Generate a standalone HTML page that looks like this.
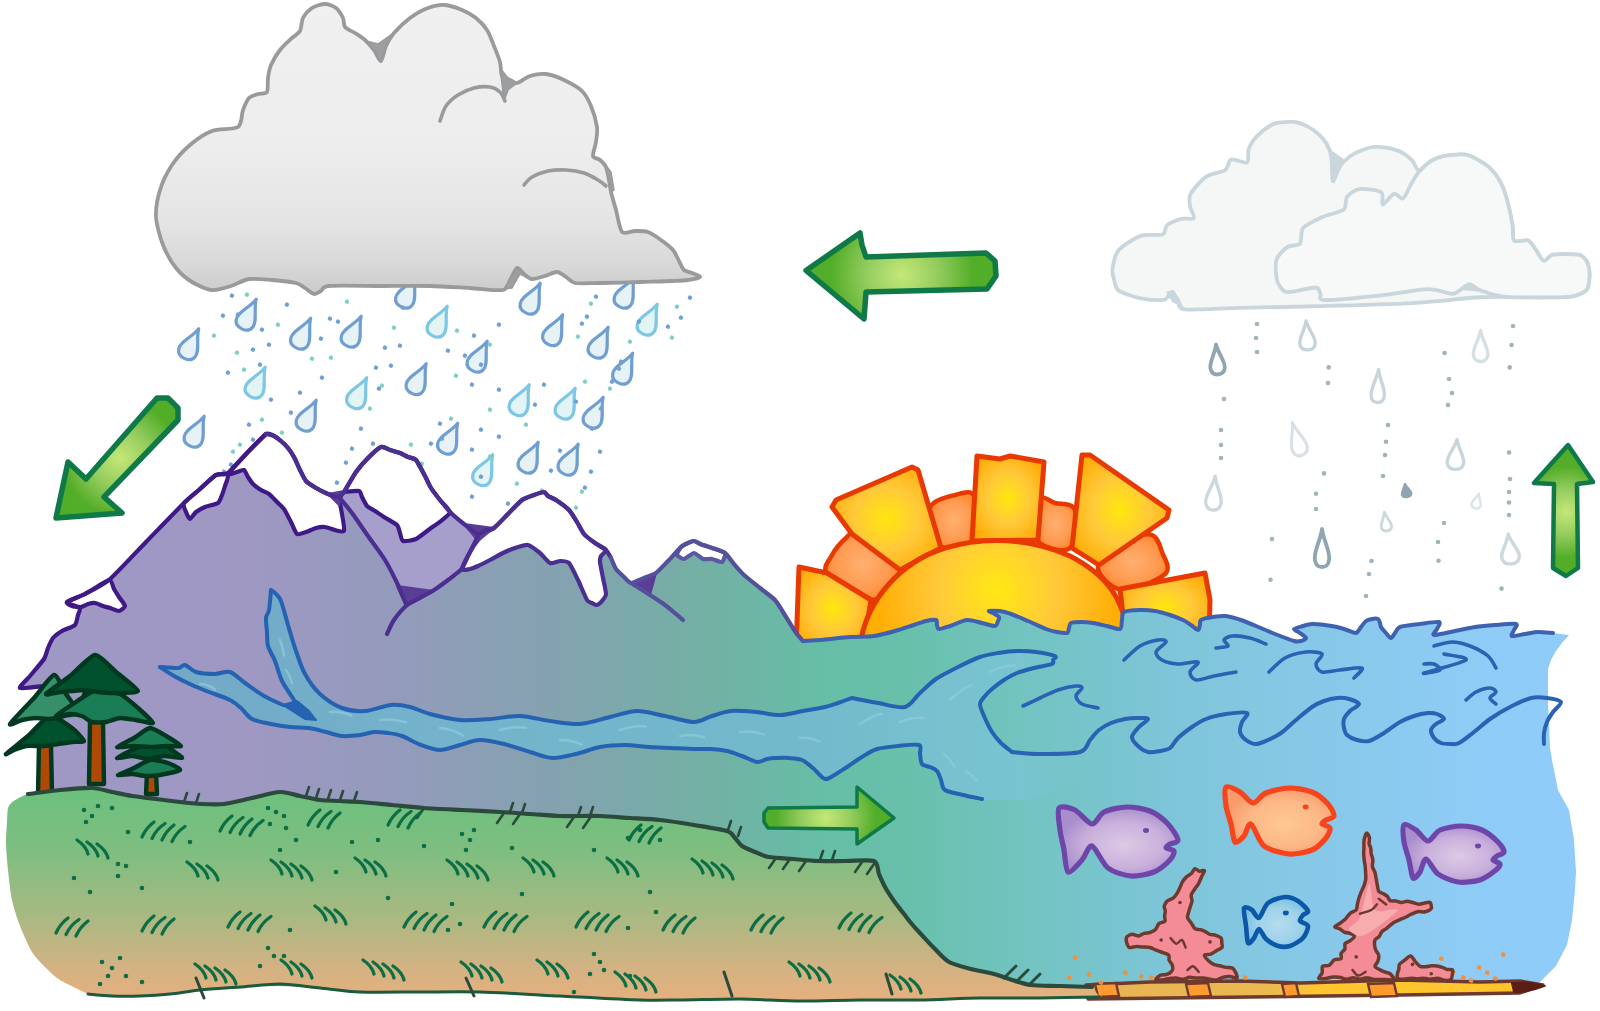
<!DOCTYPE html>
<html lang="en">
<head>
<meta charset="utf-8">
<title>Water cycle</title>
<style>
html,body{margin:0;padding:0;background:#fff;}
body{width:1600px;height:1011px;overflow:hidden;font-family:"Liberation Sans",sans-serif;}
svg{display:block;}
</style>
</head>
<body>
<svg width="1600" height="1011" viewBox="0 0 1600 1011">
<defs>
<linearGradient id="land" gradientUnits="userSpaceOnUse" x1="0" y1="0" x2="1600" y2="0">
<stop offset="0" stop-color="#a097c5"/>
<stop offset="0.16" stop-color="#9e98c3"/>
<stop offset="0.25" stop-color="#939bbb"/>
<stop offset="0.345" stop-color="#84a2b0"/>
<stop offset="0.44" stop-color="#73b0a4"/>
<stop offset="0.515" stop-color="#66bea6"/>
<stop offset="0.565" stop-color="#68c0ab"/>
<stop offset="0.63" stop-color="#71c3be"/>
<stop offset="0.72" stop-color="#7cc5d6"/>
<stop offset="0.81" stop-color="#86c8e6"/>
<stop offset="0.91" stop-color="#8ecbf5"/>
<stop offset="1" stop-color="#90ccfa"/>
</linearGradient>
<linearGradient id="grass" gradientUnits="userSpaceOnUse" x1="0" y1="790" x2="0" y2="1000">
<stop offset="0" stop-color="#6cc07e"/>
<stop offset="0.3" stop-color="#7fbe80"/>
<stop offset="0.6" stop-color="#a8b982"/>
<stop offset="0.85" stop-color="#d4b282"/>
<stop offset="1" stop-color="#e6b07e"/>
</linearGradient>
<linearGradient id="cloud1" gradientUnits="userSpaceOnUse" x1="0" y1="0" x2="0" y2="295">
<stop offset="0" stop-color="#f0f0f0"/>
<stop offset="0.5" stop-color="#ededed"/>
<stop offset="0.75" stop-color="#e4e4e4"/>
<stop offset="0.9" stop-color="#d8d8d8"/>
<stop offset="1" stop-color="#cacaca"/>
</linearGradient>
<radialGradient id="sunD" gradientUnits="userSpaceOnUse" cx="997" cy="590" r="120">
<stop offset="0" stop-color="#ffe814"/>
<stop offset="0.5" stop-color="#ffc93a"/>
<stop offset="1" stop-color="#ffae06"/>
</radialGradient>
<radialGradient id="ray" cx="0.5" cy="0.5" r="0.6">
<stop offset="0" stop-color="#ffe60e"/>
<stop offset="0.5" stop-color="#ffc93a"/>
<stop offset="1" stop-color="#ffaa04"/>
</radialGradient>
<radialGradient id="blob" cx="0.5" cy="0.5" r="0.6">
<stop offset="0" stop-color="#ffb070"/>
<stop offset="0.6" stop-color="#ff9a50"/>
<stop offset="1" stop-color="#ff8020"/>
</radialGradient>
<radialGradient id="arr" cx="0.5" cy="0.5" r="0.5">
<stop offset="0" stop-color="#c2e676"/>
<stop offset="0.55" stop-color="#8fca5c"/>
<stop offset="1" stop-color="#52ad28"/>
</radialGradient>
<radialGradient id="fishP" cx="0.55" cy="0.55" r="0.55">
<stop offset="0" stop-color="#dccae6"/>
<stop offset="0.6" stop-color="#c9b0dc"/>
<stop offset="1" stop-color="#a98dcc"/>
</radialGradient>
<radialGradient id="fishO" cx="0.55" cy="0.55" r="0.55">
<stop offset="0" stop-color="#fdc892"/>
<stop offset="0.6" stop-color="#fdb888"/>
<stop offset="1" stop-color="#f99a6a"/>
</radialGradient>
<radialGradient id="fishB" cx="0.55" cy="0.55" r="0.55">
<stop offset="0" stop-color="#b4dcee"/>
<stop offset="0.6" stop-color="#9fd2ea"/>
<stop offset="1" stop-color="#7cbfe2"/>
</radialGradient>
<linearGradient id="riv" gradientUnits="userSpaceOnUse" x1="160" y1="0" x2="1100" y2="0">
<stop offset="0" stop-color="#72a8c6"/>
<stop offset="0.30" stop-color="#74b3cb"/>
<stop offset="0.68" stop-color="#72b9cb"/>
<stop offset="0.85" stop-color="#78c2d0"/>
<stop offset="0.91" stop-color="#79c4d0"/>
<stop offset="1" stop-color="#79c5d0" stop-opacity="0"/>
</linearGradient>
<linearGradient id="floor" gradientUnits="userSpaceOnUse" x1="1090" y1="0" x2="1540" y2="0">
<stop offset="0" stop-color="#e8b454"/><stop offset="0.4" stop-color="#ecb850"/><stop offset="0.5" stop-color="#ffc630"/><stop offset="1" stop-color="#ffc42c"/>
</linearGradient>
</defs>
<path d="M0 -16.5 C-1.8 -6.6 -11.5 4 -9 10.6 C-7.6 16.5 -2.5 16.5 0 16.5 C2.5 16.5 7.6 16.5 9 10.6 C11.5 4 1.8 -6.6 0 -16.5 Z" transform="translate(249 314) rotate(26)" fill="#e6f2f6" stroke="#6f9fd2" stroke-width="3.2" stroke-linejoin="round"/>
<path d="M0 -16.5 C-1.8 -6.6 -11.5 4 -9 10.6 C-7.6 16.5 -2.5 16.5 0 16.5 C2.5 16.5 7.6 16.5 9 10.6 C11.5 4 1.8 -6.6 0 -16.5 Z" transform="translate(191.5 343.5) rotate(26)" fill="#e6f2f6" stroke="#6f9fd2" stroke-width="3.2" stroke-linejoin="round"/>
<path d="M0 -16.5 C-1.8 -6.6 -11.5 4 -9 10.6 C-7.6 16.5 -2.5 16.5 0 16.5 C2.5 16.5 7.6 16.5 9 10.6 C11.5 4 1.8 -6.6 0 -16.5 Z" transform="translate(303.5 333) rotate(26)" fill="#e6f2f6" stroke="#6f9fd2" stroke-width="3.2" stroke-linejoin="round"/>
<path d="M0 -16.5 C-1.8 -6.6 -11.5 4 -9 10.6 C-7.6 16.5 -2.5 16.5 0 16.5 C2.5 16.5 7.6 16.5 9 10.6 C11.5 4 1.8 -6.6 0 -16.5 Z" transform="translate(354 331) rotate(26)" fill="#e6f2f6" stroke="#6f9fd2" stroke-width="3.2" stroke-linejoin="round"/>
<path d="M0 -16.5 C-1.8 -6.6 -11.5 4 -9 10.6 C-7.6 16.5 -2.5 16.5 0 16.5 C2.5 16.5 7.6 16.5 9 10.6 C11.5 4 1.8 -6.6 0 -16.5 Z" transform="translate(408.5 292) rotate(26)" fill="#e6f2f6" stroke="#6f9fd2" stroke-width="3.2" stroke-linejoin="round"/>
<path d="M0 -16.5 C-1.8 -6.6 -11.5 4 -9 10.6 C-7.6 16.5 -2.5 16.5 0 16.5 C2.5 16.5 7.6 16.5 9 10.6 C11.5 4 1.8 -6.6 0 -16.5 Z" transform="translate(440 321) rotate(26)" fill="#e2f4f4" stroke="#7cc6e6" stroke-width="3.2" stroke-linejoin="round"/>
<path d="M0 -16.5 C-1.8 -6.6 -11.5 4 -9 10.6 C-7.6 16.5 -2.5 16.5 0 16.5 C2.5 16.5 7.6 16.5 9 10.6 C11.5 4 1.8 -6.6 0 -16.5 Z" transform="translate(533 298) rotate(26)" fill="#e6f2f6" stroke="#6f9fd2" stroke-width="3.2" stroke-linejoin="round"/>
<path d="M0 -16.5 C-1.8 -6.6 -11.5 4 -9 10.6 C-7.6 16.5 -2.5 16.5 0 16.5 C2.5 16.5 7.6 16.5 9 10.6 C11.5 4 1.8 -6.6 0 -16.5 Z" transform="translate(555.5 329.5) rotate(26)" fill="#e6f2f6" stroke="#6f9fd2" stroke-width="3.2" stroke-linejoin="round"/>
<path d="M0 -16.5 C-1.8 -6.6 -11.5 4 -9 10.6 C-7.6 16.5 -2.5 16.5 0 16.5 C2.5 16.5 7.6 16.5 9 10.6 C11.5 4 1.8 -6.6 0 -16.5 Z" transform="translate(627 292) rotate(26)" fill="#e6f2f6" stroke="#6f9fd2" stroke-width="3.2" stroke-linejoin="round"/>
<path d="M0 -16.5 C-1.8 -6.6 -11.5 4 -9 10.6 C-7.6 16.5 -2.5 16.5 0 16.5 C2.5 16.5 7.6 16.5 9 10.6 C11.5 4 1.8 -6.6 0 -16.5 Z" transform="translate(650 319) rotate(26)" fill="#e2f4f4" stroke="#7cc6e6" stroke-width="3.2" stroke-linejoin="round"/>
<path d="M0 -16.5 C-1.8 -6.6 -11.5 4 -9 10.6 C-7.6 16.5 -2.5 16.5 0 16.5 C2.5 16.5 7.6 16.5 9 10.6 C11.5 4 1.8 -6.6 0 -16.5 Z" transform="translate(601 342) rotate(26)" fill="#e6f2f6" stroke="#6f9fd2" stroke-width="3.2" stroke-linejoin="round"/>
<path d="M0 -16.5 C-1.8 -6.6 -11.5 4 -9 10.6 C-7.6 16.5 -2.5 16.5 0 16.5 C2.5 16.5 7.6 16.5 9 10.6 C11.5 4 1.8 -6.6 0 -16.5 Z" transform="translate(480 356) rotate(26)" fill="#e6f2f6" stroke="#6f9fd2" stroke-width="3.2" stroke-linejoin="round"/>
<path d="M0 -16.5 C-1.8 -6.6 -11.5 4 -9 10.6 C-7.6 16.5 -2.5 16.5 0 16.5 C2.5 16.5 7.6 16.5 9 10.6 C11.5 4 1.8 -6.6 0 -16.5 Z" transform="translate(625.5 368) rotate(26)" fill="#e6f2f6" stroke="#6f9fd2" stroke-width="3.2" stroke-linejoin="round"/>
<path d="M0 -16.5 C-1.8 -6.6 -11.5 4 -9 10.6 C-7.6 16.5 -2.5 16.5 0 16.5 C2.5 16.5 7.6 16.5 9 10.6 C11.5 4 1.8 -6.6 0 -16.5 Z" transform="translate(258 382) rotate(26)" fill="#e2f4f4" stroke="#7cc6e6" stroke-width="3.2" stroke-linejoin="round"/>
<path d="M0 -16.5 C-1.8 -6.6 -11.5 4 -9 10.6 C-7.6 16.5 -2.5 16.5 0 16.5 C2.5 16.5 7.6 16.5 9 10.6 C11.5 4 1.8 -6.6 0 -16.5 Z" transform="translate(359.5 392.5) rotate(26)" fill="#e2f4f4" stroke="#7cc6e6" stroke-width="3.2" stroke-linejoin="round"/>
<path d="M0 -16.5 C-1.8 -6.6 -11.5 4 -9 10.6 C-7.6 16.5 -2.5 16.5 0 16.5 C2.5 16.5 7.6 16.5 9 10.6 C11.5 4 1.8 -6.6 0 -16.5 Z" transform="translate(419 378.5) rotate(26)" fill="#e6f2f6" stroke="#6f9fd2" stroke-width="3.2" stroke-linejoin="round"/>
<path d="M0 -16.5 C-1.8 -6.6 -11.5 4 -9 10.6 C-7.6 16.5 -2.5 16.5 0 16.5 C2.5 16.5 7.6 16.5 9 10.6 C11.5 4 1.8 -6.6 0 -16.5 Z" transform="translate(522 399.5) rotate(26)" fill="#e2f4f4" stroke="#7cc6e6" stroke-width="3.2" stroke-linejoin="round"/>
<path d="M0 -16.5 C-1.8 -6.6 -11.5 4 -9 10.6 C-7.6 16.5 -2.5 16.5 0 16.5 C2.5 16.5 7.6 16.5 9 10.6 C11.5 4 1.8 -6.6 0 -16.5 Z" transform="translate(568 403) rotate(26)" fill="#e2f4f4" stroke="#7cc6e6" stroke-width="3.2" stroke-linejoin="round"/>
<path d="M0 -16.5 C-1.8 -6.6 -11.5 4 -9 10.6 C-7.6 16.5 -2.5 16.5 0 16.5 C2.5 16.5 7.6 16.5 9 10.6 C11.5 4 1.8 -6.6 0 -16.5 Z" transform="translate(596 412) rotate(26)" fill="#e6f2f6" stroke="#6f9fd2" stroke-width="3.2" stroke-linejoin="round"/>
<path d="M0 -16.5 C-1.8 -6.6 -11.5 4 -9 10.6 C-7.6 16.5 -2.5 16.5 0 16.5 C2.5 16.5 7.6 16.5 9 10.6 C11.5 4 1.8 -6.6 0 -16.5 Z" transform="translate(197 431) rotate(26)" fill="#e6f2f6" stroke="#6f9fd2" stroke-width="3.2" stroke-linejoin="round"/>
<path d="M0 -16.5 C-1.8 -6.6 -11.5 4 -9 10.6 C-7.6 16.5 -2.5 16.5 0 16.5 C2.5 16.5 7.6 16.5 9 10.6 C11.5 4 1.8 -6.6 0 -16.5 Z" transform="translate(309 415) rotate(26)" fill="#e6f2f6" stroke="#6f9fd2" stroke-width="3.2" stroke-linejoin="round"/>
<path d="M0 -16.5 C-1.8 -6.6 -11.5 4 -9 10.6 C-7.6 16.5 -2.5 16.5 0 16.5 C2.5 16.5 7.6 16.5 9 10.6 C11.5 4 1.8 -6.6 0 -16.5 Z" transform="translate(450.5 438) rotate(26)" fill="#e6f2f6" stroke="#6f9fd2" stroke-width="3.2" stroke-linejoin="round"/>
<path d="M0 -16.5 C-1.8 -6.6 -11.5 4 -9 10.6 C-7.6 16.5 -2.5 16.5 0 16.5 C2.5 16.5 7.6 16.5 9 10.6 C11.5 4 1.8 -6.6 0 -16.5 Z" transform="translate(485.5 469.5) rotate(26)" fill="#e2f4f4" stroke="#7cc6e6" stroke-width="3.2" stroke-linejoin="round"/>
<path d="M0 -16.5 C-1.8 -6.6 -11.5 4 -9 10.6 C-7.6 16.5 -2.5 16.5 0 16.5 C2.5 16.5 7.6 16.5 9 10.6 C11.5 4 1.8 -6.6 0 -16.5 Z" transform="translate(531 457) rotate(26)" fill="#e6f2f6" stroke="#6f9fd2" stroke-width="3.2" stroke-linejoin="round"/>
<path d="M0 -16.5 C-1.8 -6.6 -11.5 4 -9 10.6 C-7.6 16.5 -2.5 16.5 0 16.5 C2.5 16.5 7.6 16.5 9 10.6 C11.5 4 1.8 -6.6 0 -16.5 Z" transform="translate(571 459) rotate(26)" fill="#e6f2f6" stroke="#6f9fd2" stroke-width="3.2" stroke-linejoin="round"/>
<rect x="246" y="292" width="4" height="4" rx="1.2" fill="#7fd0c0" transform="rotate(25 246 292)"/>
<rect x="237" y="312" width="4" height="4" rx="1.2" fill="#6fa0d4" transform="rotate(25 237 312)"/>
<rect x="231" y="293" width="4" height="4" rx="1.2" fill="#6fa0d4" transform="rotate(25 231 293)"/>
<rect x="222" y="313" width="4" height="4" rx="1.2" fill="#6fa0d4" transform="rotate(25 222 313)"/>
<rect x="213" y="333" width="4" height="4" rx="1.2" fill="#7fd0c0" transform="rotate(25 213 333)"/>
<rect x="286" y="302" width="4" height="4" rx="1.2" fill="#6fa0d4" transform="rotate(25 286 302)"/>
<rect x="277" y="322" width="4" height="4" rx="1.2" fill="#7fd0c0" transform="rotate(25 277 322)"/>
<rect x="268" y="342" width="4" height="4" rx="1.2" fill="#6fa0d4" transform="rotate(25 268 342)"/>
<rect x="259" y="362" width="4" height="4" rx="1.2" fill="#6fa0d4" transform="rotate(25 259 362)"/>
<rect x="346" y="299" width="4" height="4" rx="1.2" fill="#7fd0c0" transform="rotate(25 346 299)"/>
<rect x="337" y="319" width="4" height="4" rx="1.2" fill="#6fa0d4" transform="rotate(25 337 319)"/>
<rect x="329" y="316" width="4" height="4" rx="1.2" fill="#6fa0d4" transform="rotate(25 329 316)"/>
<rect x="320" y="336" width="4" height="4" rx="1.2" fill="#6fa0d4" transform="rotate(25 320 336)"/>
<rect x="311" y="356" width="4" height="4" rx="1.2" fill="#7fd0c0" transform="rotate(25 311 356)"/>
<rect x="402" y="305" width="4" height="4" rx="1.2" fill="#6fa0d4" transform="rotate(25 402 305)"/>
<rect x="393" y="325" width="4" height="4" rx="1.2" fill="#7fd0c0" transform="rotate(25 393 325)"/>
<rect x="384" y="345" width="4" height="4" rx="1.2" fill="#6fa0d4" transform="rotate(25 384 345)"/>
<rect x="375" y="365" width="4" height="4" rx="1.2" fill="#6fa0d4" transform="rotate(25 375 365)"/>
<rect x="456" y="328" width="4" height="4" rx="1.2" fill="#7fd0c0" transform="rotate(25 456 328)"/>
<rect x="447" y="348" width="4" height="4" rx="1.2" fill="#6fa0d4" transform="rotate(25 447 348)"/>
<rect x="473" y="333" width="4" height="4" rx="1.2" fill="#6fa0d4" transform="rotate(25 473 333)"/>
<rect x="464" y="353" width="4" height="4" rx="1.2" fill="#6fa0d4" transform="rotate(25 464 353)"/>
<rect x="455" y="373" width="4" height="4" rx="1.2" fill="#7fd0c0" transform="rotate(25 455 373)"/>
<rect x="498" y="322" width="4" height="4" rx="1.2" fill="#6fa0d4" transform="rotate(25 498 322)"/>
<rect x="489" y="342" width="4" height="4" rx="1.2" fill="#7fd0c0" transform="rotate(25 489 342)"/>
<rect x="480" y="362" width="4" height="4" rx="1.2" fill="#6fa0d4" transform="rotate(25 480 362)"/>
<rect x="471" y="382" width="4" height="4" rx="1.2" fill="#6fa0d4" transform="rotate(25 471 382)"/>
<rect x="590" y="301" width="4" height="4" rx="1.2" fill="#7fd0c0" transform="rotate(25 590 301)"/>
<rect x="581" y="321" width="4" height="4" rx="1.2" fill="#6fa0d4" transform="rotate(25 581 321)"/>
<rect x="595" y="294" width="4" height="4" rx="1.2" fill="#6fa0d4" transform="rotate(25 595 294)"/>
<rect x="586" y="314" width="4" height="4" rx="1.2" fill="#6fa0d4" transform="rotate(25 586 314)"/>
<rect x="577" y="334" width="4" height="4" rx="1.2" fill="#7fd0c0" transform="rotate(25 577 334)"/>
<rect x="638" y="319" width="4" height="4" rx="1.2" fill="#6fa0d4" transform="rotate(25 638 319)"/>
<rect x="629" y="339" width="4" height="4" rx="1.2" fill="#7fd0c0" transform="rotate(25 629 339)"/>
<rect x="620" y="359" width="4" height="4" rx="1.2" fill="#6fa0d4" transform="rotate(25 620 359)"/>
<rect x="611" y="379" width="4" height="4" rx="1.2" fill="#6fa0d4" transform="rotate(25 611 379)"/>
<rect x="676" y="304" width="4" height="4" rx="1.2" fill="#7fd0c0" transform="rotate(25 676 304)"/>
<rect x="667" y="324" width="4" height="4" rx="1.2" fill="#6fa0d4" transform="rotate(25 667 324)"/>
<rect x="689" y="295" width="4" height="4" rx="1.2" fill="#6fa0d4" transform="rotate(25 689 295)"/>
<rect x="680" y="315" width="4" height="4" rx="1.2" fill="#6fa0d4" transform="rotate(25 680 315)"/>
<rect x="671" y="335" width="4" height="4" rx="1.2" fill="#7fd0c0" transform="rotate(25 671 335)"/>
<rect x="618" y="366" width="4" height="4" rx="1.2" fill="#6fa0d4" transform="rotate(25 618 366)"/>
<rect x="609" y="386" width="4" height="4" rx="1.2" fill="#7fd0c0" transform="rotate(25 609 386)"/>
<rect x="600" y="406" width="4" height="4" rx="1.2" fill="#6fa0d4" transform="rotate(25 600 406)"/>
<rect x="591" y="426" width="4" height="4" rx="1.2" fill="#6fa0d4" transform="rotate(25 591 426)"/>
<rect x="584" y="379" width="4" height="4" rx="1.2" fill="#7fd0c0" transform="rotate(25 584 379)"/>
<rect x="575" y="399" width="4" height="4" rx="1.2" fill="#6fa0d4" transform="rotate(25 575 399)"/>
<rect x="543" y="382" width="4" height="4" rx="1.2" fill="#6fa0d4" transform="rotate(25 543 382)"/>
<rect x="534" y="402" width="4" height="4" rx="1.2" fill="#6fa0d4" transform="rotate(25 534 402)"/>
<rect x="525" y="422" width="4" height="4" rx="1.2" fill="#7fd0c0" transform="rotate(25 525 422)"/>
<rect x="498" y="387" width="4" height="4" rx="1.2" fill="#6fa0d4" transform="rotate(25 498 387)"/>
<rect x="489" y="407" width="4" height="4" rx="1.2" fill="#7fd0c0" transform="rotate(25 489 407)"/>
<rect x="480" y="427" width="4" height="4" rx="1.2" fill="#6fa0d4" transform="rotate(25 480 427)"/>
<rect x="471" y="447" width="4" height="4" rx="1.2" fill="#6fa0d4" transform="rotate(25 471 447)"/>
<rect x="450" y="416" width="4" height="4" rx="1.2" fill="#7fd0c0" transform="rotate(25 450 416)"/>
<rect x="441" y="436" width="4" height="4" rx="1.2" fill="#6fa0d4" transform="rotate(25 441 436)"/>
<rect x="399" y="343" width="4" height="4" rx="1.2" fill="#6fa0d4" transform="rotate(25 399 343)"/>
<rect x="390" y="363" width="4" height="4" rx="1.2" fill="#6fa0d4" transform="rotate(25 390 363)"/>
<rect x="381" y="383" width="4" height="4" rx="1.2" fill="#7fd0c0" transform="rotate(25 381 383)"/>
<rect x="378" y="386" width="4" height="4" rx="1.2" fill="#6fa0d4" transform="rotate(25 378 386)"/>
<rect x="369" y="406" width="4" height="4" rx="1.2" fill="#7fd0c0" transform="rotate(25 369 406)"/>
<rect x="360" y="426" width="4" height="4" rx="1.2" fill="#6fa0d4" transform="rotate(25 360 426)"/>
<rect x="351" y="446" width="4" height="4" rx="1.2" fill="#6fa0d4" transform="rotate(25 351 446)"/>
<rect x="330" y="355" width="4" height="4" rx="1.2" fill="#7fd0c0" transform="rotate(25 330 355)"/>
<rect x="321" y="375" width="4" height="4" rx="1.2" fill="#6fa0d4" transform="rotate(25 321 375)"/>
<rect x="299" y="390" width="4" height="4" rx="1.2" fill="#6fa0d4" transform="rotate(25 299 390)"/>
<rect x="290" y="410" width="4" height="4" rx="1.2" fill="#6fa0d4" transform="rotate(25 290 410)"/>
<rect x="281" y="430" width="4" height="4" rx="1.2" fill="#7fd0c0" transform="rotate(25 281 430)"/>
<rect x="270" y="397" width="4" height="4" rx="1.2" fill="#6fa0d4" transform="rotate(25 270 397)"/>
<rect x="261" y="417" width="4" height="4" rx="1.2" fill="#7fd0c0" transform="rotate(25 261 417)"/>
<rect x="252" y="437" width="4" height="4" rx="1.2" fill="#6fa0d4" transform="rotate(25 252 437)"/>
<rect x="243" y="457" width="4" height="4" rx="1.2" fill="#6fa0d4" transform="rotate(25 243 457)"/>
<rect x="236" y="350" width="4" height="4" rx="1.2" fill="#7fd0c0" transform="rotate(25 236 350)"/>
<rect x="227" y="370" width="4" height="4" rx="1.2" fill="#6fa0d4" transform="rotate(25 227 370)"/>
<rect x="261" y="327" width="4" height="4" rx="1.2" fill="#6fa0d4" transform="rotate(25 261 327)"/>
<rect x="252" y="347" width="4" height="4" rx="1.2" fill="#6fa0d4" transform="rotate(25 252 347)"/>
<rect x="243" y="367" width="4" height="4" rx="1.2" fill="#7fd0c0" transform="rotate(25 243 367)"/>
<rect x="248" y="422" width="4" height="4" rx="1.2" fill="#6fa0d4" transform="rotate(25 248 422)"/>
<rect x="239" y="442" width="4" height="4" rx="1.2" fill="#7fd0c0" transform="rotate(25 239 442)"/>
<rect x="230" y="462" width="4" height="4" rx="1.2" fill="#6fa0d4" transform="rotate(25 230 462)"/>
<rect x="221" y="482" width="4" height="4" rx="1.2" fill="#6fa0d4" transform="rotate(25 221 482)"/>
<rect x="232" y="449" width="4" height="4" rx="1.2" fill="#7fd0c0" transform="rotate(25 232 449)"/>
<rect x="223" y="469" width="4" height="4" rx="1.2" fill="#6fa0d4" transform="rotate(25 223 469)"/>
<rect x="345" y="460" width="4" height="4" rx="1.2" fill="#6fa0d4" transform="rotate(25 345 460)"/>
<rect x="336" y="480" width="4" height="4" rx="1.2" fill="#6fa0d4" transform="rotate(25 336 480)"/>
<rect x="327" y="500" width="4" height="4" rx="1.2" fill="#7fd0c0" transform="rotate(25 327 500)"/>
<rect x="372" y="441" width="4" height="4" rx="1.2" fill="#6fa0d4" transform="rotate(25 372 441)"/>
<rect x="363" y="461" width="4" height="4" rx="1.2" fill="#7fd0c0" transform="rotate(25 363 461)"/>
<rect x="354" y="481" width="4" height="4" rx="1.2" fill="#6fa0d4" transform="rotate(25 354 481)"/>
<rect x="345" y="501" width="4" height="4" rx="1.2" fill="#6fa0d4" transform="rotate(25 345 501)"/>
<rect x="410" y="442" width="4" height="4" rx="1.2" fill="#7fd0c0" transform="rotate(25 410 442)"/>
<rect x="401" y="462" width="4" height="4" rx="1.2" fill="#6fa0d4" transform="rotate(25 401 462)"/>
<rect x="439" y="421" width="4" height="4" rx="1.2" fill="#6fa0d4" transform="rotate(25 439 421)"/>
<rect x="430" y="441" width="4" height="4" rx="1.2" fill="#6fa0d4" transform="rotate(25 430 441)"/>
<rect x="421" y="461" width="4" height="4" rx="1.2" fill="#7fd0c0" transform="rotate(25 421 461)"/>
<rect x="498" y="434" width="4" height="4" rx="1.2" fill="#6fa0d4" transform="rotate(25 498 434)"/>
<rect x="489" y="454" width="4" height="4" rx="1.2" fill="#7fd0c0" transform="rotate(25 489 454)"/>
<rect x="480" y="474" width="4" height="4" rx="1.2" fill="#6fa0d4" transform="rotate(25 480 474)"/>
<rect x="471" y="494" width="4" height="4" rx="1.2" fill="#6fa0d4" transform="rotate(25 471 494)"/>
<rect x="516" y="481" width="4" height="4" rx="1.2" fill="#7fd0c0" transform="rotate(25 516 481)"/>
<rect x="507" y="501" width="4" height="4" rx="1.2" fill="#6fa0d4" transform="rotate(25 507 501)"/>
<rect x="559" y="448" width="4" height="4" rx="1.2" fill="#6fa0d4" transform="rotate(25 559 448)"/>
<rect x="550" y="468" width="4" height="4" rx="1.2" fill="#6fa0d4" transform="rotate(25 550 468)"/>
<rect x="541" y="488" width="4" height="4" rx="1.2" fill="#7fd0c0" transform="rotate(25 541 488)"/>
<rect x="584" y="485" width="4" height="4" rx="1.2" fill="#6fa0d4" transform="rotate(25 584 485)"/>
<rect x="575" y="505" width="4" height="4" rx="1.2" fill="#7fd0c0" transform="rotate(25 575 505)"/>
<rect x="566" y="525" width="4" height="4" rx="1.2" fill="#6fa0d4" transform="rotate(25 566 525)"/>
<rect x="557" y="545" width="4" height="4" rx="1.2" fill="#6fa0d4" transform="rotate(25 557 545)"/>
<rect x="560" y="504" width="4" height="4" rx="1.2" fill="#7fd0c0" transform="rotate(25 560 504)"/>
<rect x="551" y="524" width="4" height="4" rx="1.2" fill="#6fa0d4" transform="rotate(25 551 524)"/>
<rect x="599" y="449" width="4" height="4" rx="1.2" fill="#6fa0d4" transform="rotate(25 599 449)"/>
<rect x="590" y="469" width="4" height="4" rx="1.2" fill="#6fa0d4" transform="rotate(25 590 469)"/>
<rect x="581" y="489" width="4" height="4" rx="1.2" fill="#7fd0c0" transform="rotate(25 581 489)"/>
<path d="M0 -15 C-1.4 -6 -9 3.6 -7 9.6 C-5.9 15 -2 15 0 15 C2 15 5.9 15 7 9.6 C9 3.6 1.4 -6 0 -15 Z" transform="translate(1217 359.5) rotate(-4)" fill="#fff" stroke="#8fa6b0" stroke-width="3.8" stroke-linejoin="round"/>
<path d="M0 -14.5 C-1.5 -5.8 -9.6 3.5 -7.5 9.3 C-6.3 14.5 -2.1 14.5 0 14.5 C2.1 14.5 6.3 14.5 7.5 9.3 C9.6 3.5 1.5 -5.8 0 -14.5 Z" transform="translate(1307 335.4) rotate(-4)" fill="#fff" stroke="#c4d4da" stroke-width="3.4" stroke-linejoin="round"/>
<path d="M0 -15.5 C-1.4 -6.2 -9 3.7 -7 9.9 C-5.9 15.5 -2 15.5 0 15.5 C2 15.5 5.9 15.5 7 9.9 C9 3.7 1.4 -6.2 0 -15.5 Z" transform="translate(1480.6 346) rotate(0)" fill="#fff" stroke="#d6e0e4" stroke-width="3.4" stroke-linejoin="round"/>
<path d="M0 -16.5 C-1.3 -6.6 -8.3 4 -6.5 10.6 C-5.5 16.5 -1.8 16.5 0 16.5 C1.8 16.5 5.5 16.5 6.5 10.6 C8.3 4 1.3 -6.6 0 -16.5 Z" transform="translate(1378 386) rotate(2)" fill="#fff" stroke="#c8d6dc" stroke-width="3.4" stroke-linejoin="round"/>
<path d="M0 -17 C-1.5 -6.8 -9.6 4.1 -7.5 10.9 C-6.3 17 -2.1 17 0 17 C2.1 17 6.3 17 7.5 10.9 C9.6 4.1 1.5 -6.8 0 -17 Z" transform="translate(1297 439) rotate(-16)" fill="#fff" stroke="#d8e2e6" stroke-width="3.2" stroke-linejoin="round"/>
<path d="M0 -15 C-1.6 -6 -10.2 3.6 -8 9.6 C-6.7 15 -2.2 15 0 15 C2.2 15 6.7 15 8 9.6 C10.2 3.6 1.6 -6 0 -15 Z" transform="translate(1456 454.4) rotate(4)" fill="#fff" stroke="#c8d6dc" stroke-width="3.4" stroke-linejoin="round"/>
<path d="M0 -17 C-1.5 -6.8 -9.6 4.1 -7.5 10.9 C-6.3 17 -2.1 17 0 17 C2.1 17 6.3 17 7.5 10.9 C9.6 4.1 1.5 -6.8 0 -17 Z" transform="translate(1214 493) rotate(4)" fill="#fff" stroke="#ccd8dc" stroke-width="3.4" stroke-linejoin="round"/>
<path d="M0 -19 C-1.4 -7.6 -9 4.6 -7 12.2 C-5.9 19 -2 19 0 19 C2 19 5.9 19 7 12.2 C9 4.6 1.4 -7.6 0 -19 Z" transform="translate(1322 548) rotate(0)" fill="#fff" stroke="#8fa6b0" stroke-width="3.8" stroke-linejoin="round"/>
<path d="M0 -15 C-1.7 -6 -10.9 3.6 -8.5 9.6 C-7.1 15 -2.4 15 0 15 C2.4 15 7.1 15 8.5 9.6 C10.9 3.6 1.7 -6 0 -15 Z" transform="translate(1509.7 549) rotate(-6)" fill="#fff" stroke="#ccd8dc" stroke-width="3.4" stroke-linejoin="round"/>
<path d="M0 -9.5 C-1 -3.8 -6.4 2.3 -5 6.1 C-4.2 9.5 -1.4 9.5 0 9.5 C1.4 9.5 4.2 9.5 5 6.1 C6.4 2.3 1 -3.8 0 -9.5 Z" transform="translate(1385.7 521.5) rotate(-8)" fill="#fff" stroke="#ccd8dc" stroke-width="2.8" stroke-linejoin="round"/>
<path d="M0 -7.5 C-0.9 -3 -5.8 1.8 -4.5 4.8 C-3.8 7.5 -1.3 7.5 0 7.5 C1.3 7.5 3.8 7.5 4.5 4.8 C5.8 1.8 0.9 -3 0 -7.5 Z" transform="translate(1477 501) rotate(14)" fill="#fff" stroke="#dce4e8" stroke-width="2.6" stroke-linejoin="round"/>
<path d="M0 -6.5 C-0.9 -2.6 -5.8 1.6 -4.5 4.2 C-3.8 6.5 -1.3 6.5 0 6.5 C1.3 6.5 3.8 6.5 4.5 4.2 C5.8 1.6 0.9 -2.6 0 -6.5 Z" transform="translate(1406 490.5) rotate(-10)" fill="#8fa6b0" stroke="#8fa6b0" stroke-width="2.5" stroke-linejoin="round"/>
<circle cx="1257" cy="324" r="2.3" fill="#9fb4bd"/>
<circle cx="1256" cy="338" r="2.3" fill="#9fb4bd"/>
<circle cx="1257" cy="352" r="2.3" fill="#9fb4bd"/>
<circle cx="1224" cy="399" r="2.3" fill="#9fb4bd"/>
<circle cx="1221" cy="430" r="2.3" fill="#9fb4bd"/>
<circle cx="1221" cy="445" r="2.3" fill="#9fb4bd"/>
<circle cx="1221" cy="458" r="2.3" fill="#9fb4bd"/>
<circle cx="1328.7" cy="367.4" r="2.3" fill="#9fb4bd"/>
<circle cx="1328" cy="383" r="2.3" fill="#9fb4bd"/>
<circle cx="1324" cy="473.4" r="2.3" fill="#9fb4bd"/>
<circle cx="1316" cy="493.7" r="2.3" fill="#9fb4bd"/>
<circle cx="1316" cy="509" r="2.3" fill="#9fb4bd"/>
<circle cx="1272" cy="539" r="2.3" fill="#9fb4bd"/>
<circle cx="1270.5" cy="579.7" r="2.3" fill="#9fb4bd"/>
<circle cx="1388" cy="425" r="2.3" fill="#9fb4bd"/>
<circle cx="1386" cy="441.8" r="2.3" fill="#9fb4bd"/>
<circle cx="1385" cy="455" r="2.3" fill="#9fb4bd"/>
<circle cx="1383" cy="476" r="2.3" fill="#9fb4bd"/>
<circle cx="1371.5" cy="561" r="2.3" fill="#9fb4bd"/>
<circle cx="1369" cy="574" r="2.3" fill="#9fb4bd"/>
<circle cx="1366" cy="596" r="2.3" fill="#9fb4bd"/>
<circle cx="1444.6" cy="353" r="2.3" fill="#9fb4bd"/>
<circle cx="1449" cy="379" r="2.3" fill="#9fb4bd"/>
<circle cx="1452" cy="393" r="2.3" fill="#9fb4bd"/>
<circle cx="1448" cy="405" r="2.3" fill="#9fb4bd"/>
<circle cx="1444" cy="523" r="2.3" fill="#9fb4bd"/>
<circle cx="1438" cy="542" r="2.3" fill="#9fb4bd"/>
<circle cx="1438.5" cy="560.8" r="2.3" fill="#9fb4bd"/>
<circle cx="1513" cy="326" r="2.3" fill="#9fb4bd"/>
<circle cx="1511.6" cy="345" r="2.3" fill="#9fb4bd"/>
<circle cx="1509.7" cy="367.4" r="2.3" fill="#9fb4bd"/>
<circle cx="1509" cy="452.5" r="2.3" fill="#9fb4bd"/>
<circle cx="1510" cy="479" r="2.3" fill="#9fb4bd"/>
<circle cx="1509" cy="492" r="2.3" fill="#9fb4bd"/>
<circle cx="1509" cy="502.5" r="2.3" fill="#9fb4bd"/>
<circle cx="1509" cy="515" r="2.3" fill="#9fb4bd"/>
<circle cx="1501.5" cy="588.6" r="2.3" fill="#9fb4bd"/>
<path d="M828 575 C821.3 567.5 828.8 561.3 832 555 C835.2 548.7 842 541.5 847 537 C852 532.5 853.2 522.5 862 528 C870.8 533.5 898.3 558 900 570 C901.7 582 884 599.2 872 600 C860 600.8 834.7 582.5 828 575Z" fill="url(#blob)" stroke="#e83a00" stroke-width="4.5" stroke-linejoin="round"/>
<path d="M938 545 C930.7 539.3 927.2 516.3 930 508 C932.8 499.7 947.5 496.8 955 495 C962.5 493.2 971.8 489.2 975 497 C978.2 504.8 980.2 534 974 542 C967.8 550 945.3 550.7 938 545Z" fill="url(#blob)" stroke="#e83a00" stroke-width="4.5" stroke-linejoin="round"/>
<path d="M1037 540 C1032 532 1037 506.2 1040 500 C1043 493.8 1049.2 501.3 1055 503 C1060.8 504.7 1072.5 502.5 1075 510 C1077.5 517.5 1076.3 543 1070 548 C1063.7 553 1042 548 1037 540Z" fill="url(#blob)" stroke="#e83a00" stroke-width="4.5" stroke-linejoin="round"/>
<path d="M1098 566 C1099.3 557.7 1121 545.2 1130 540 C1139 534.8 1146.7 533 1152 535 C1157.3 537 1159.8 545.5 1162 552 C1164.2 558.5 1171.7 567.7 1165 574 C1158.3 580.3 1133.2 591.3 1122 590 C1110.8 588.7 1096.7 574.3 1098 566Z" fill="url(#blob)" stroke="#e83a00" stroke-width="4.5" stroke-linejoin="round"/>
<path d="M799 567 L827 573 L871 600 L863 650 L796 650Z" fill="url(#ray)" stroke="#e83a00" stroke-width="5" stroke-linejoin="round"/>
<path d="M832 507 L836 500 L912 467 L918 470 L941 548 L900 570 L852 534Z" fill="url(#ray)" stroke="#e83a00" stroke-width="5" stroke-linejoin="round"/>
<path d="M977 456 L1000 459 L1010 456 L1044 462 L1038 540 L972 541Z" fill="url(#ray)" stroke="#e83a00" stroke-width="5" stroke-linejoin="round"/>
<path d="M1082 455 L1090 455 L1169 510 L1167 518 L1099 565 L1072 548Z" fill="url(#ray)" stroke="#e83a00" stroke-width="5" stroke-linejoin="round"/>
<path d="M1120 589 L1205 573 L1210 600 L1209 640 L1126 640Z" fill="url(#ray)" stroke="#e83a00" stroke-width="5" stroke-linejoin="round"/>
<path d="M859 655 L861 640 C868 600 900 562 945 548 C985 536 1030 538 1070 556 C1105 574 1125 598 1128 640 L1128 655 Z" fill="url(#sunD)" stroke="#e83a00" stroke-width="5" stroke-linejoin="round"/>
<path d="M20 688 L30 676 L44 659 L48 648 L53 638 L62 631 L75 625 L78 615 L80 608 L72 606 L67 602 L85 594 L109 580 L146 542 L184 503 L200 489 L216 475 L228 473 L247 453 L266 434 L274 436 L281 441 L288 448 L294 457 L300 470 L306 481 L316 488 L328 494 L338 497 L344 492 L356 472 L368 458 L381 447 L390 450 L400 453 L408 457 L416 460 L425 476 L431 488 L440 500 L450 512 L464 524 L478 534 L486 530 L494 528 L508 514 L522 500 L534 495 L544 492 L548 496 L556 500 L569 510 L577 522 L584 534 L595 543 L606 550 L611 558 L616 569 L624 577 L631 583 L644 578 L656 573 L668 561 L681 547 L688 543 L694 541 L700 544 L712 548 L725 553 L734 564 L744 575 L760 588 L775 600 L783 612 L791 625 L797 634 L803 641 L820 640 L850 637 L874 636 L895 631 L914 625 L926 621 L936 620 L937 625 L939 629 L950 626 L967 620 L982 623 L995 626 L998 621 L999 617 L993 613 L989 611 L1000 611 L1011 614 L1028 621 L1046 629 L1057 632 L1067 633 L1069 628 L1071 623 L1082 622 L1093 623 L1107 626 L1120 629 L1122 620 L1124 612 L1140 610 L1155 611 L1170 615 L1183 620 L1191 625 L1198 630 L1200 625 L1201 620 L1213 617 L1226 616 L1241 620 L1256 626 L1275 634 L1294 641 L1301 641 L1306 638 L1300 633 L1294 629 L1303 626 L1312 624 L1325 625 L1337 627 L1347 630 L1356 633 L1361 627 L1366 621 L1372 619 L1378 619 L1380 623 L1381 627 L1386 633 L1391 638 L1395 633 L1400 627 L1420 624 L1439 622 L1437 629 L1434 635 L1455 631 L1475 627 L1495 625 L1516 624 L1514 630 L1512 636 L1525 634 L1538 632 L1553 633 L1569 635 L1562 643 L1556 651 L1551 660 L1548 669 L1548 700 L1550 748 L1552 760 L1558 790 L1569 810 L1574 840 L1576 872 L1575 890 L1572 920 L1567 945 L1556 966 L1540 982 L1530 988 L1100 992 L120 985 L60 940 L44 860 L44 686Z" fill="url(#land)"/>
<path d="M339 497 L352 513 L368 536 L385 560 L397 586 L434 591 L462 569 L478 536 L450 514 L441 521 L431 528 L416 539 L403 541 L400 533 L397 525 L384 517 L375 511 L367 506 L362 497 L359 491Z" fill="#a69fcc"/>
<path d="M67 602 C67.5 600.7 80.8 596.2 85 594 C89.2 591.8 106.1 580.5 109 580 C111.9 579.5 113 587.3 114 589 C115 590.7 117.9 595.3 119 597 C120.1 598.7 125 604.6 125 606 C125 607.4 120.5 610.8 119 611 C117.5 611.2 111.6 608.5 110 608 C108.4 607.5 104.5 606.5 103 606 C101.5 605.5 96.5 603.2 95 603 C93.5 602.8 89.5 603.6 88 604 C86.5 604.4 82.1 607.2 80 607 C77.9 606.8 66.5 603.3 67 602Z" fill="#fff" stroke="#3f1a86" stroke-width="4.2" stroke-linejoin="round"/>
<path d="M184 503 C185.4 500.7 196.8 491.8 200 489 C203.2 486.2 213.2 476.4 216 475 C218.8 473.6 227.1 473.9 228 475 C228.9 476.1 225.6 484 225 486 C224.4 488 222.7 493.3 222 495 C221.3 496.7 219.7 501.8 218 503 C216.3 504.2 207.2 506.1 205 507 C202.8 507.9 197.5 510.8 196 512 C194.5 513.2 191 519 190 519 C189 519 186.6 513.6 186 512 C185.4 510.4 182.6 505.3 184 503Z" fill="#fff" stroke="#3f1a86" stroke-width="4.2" stroke-linejoin="round"/>
<path d="M228 474 C229 472.1 243.2 457 247 453 C250.8 449 263.3 435.7 266 434 C268.7 432.3 272.5 435.3 274 436 C275.5 436.7 279.6 439.8 281 441 C282.4 442.2 286.7 446.4 288 448 C289.3 449.6 292.8 454.8 294 457 C295.2 459.2 298.8 467.6 300 470 C301.2 472.4 304.4 479.2 306 481 C307.6 482.8 313.8 486.7 316 488 C318.2 489.3 325.8 493.1 328 494 C330.2 494.9 336.6 495 338 497 C339.4 499 341.4 510.6 342 514 C342.6 517.4 344.7 529.4 344 531 C343.3 532.6 336.9 530.4 335 530 C333.1 529.6 326.9 527.2 325 527 C323.1 526.8 317.9 527.5 316 528 C314.1 528.5 307.9 531.4 306 532 C304.1 532.6 298.5 535 297 534 C295.5 533 292.3 524.5 291 522 C289.7 519.5 285.4 511 284 509 C282.6 507 278.5 503.5 277 502 C275.5 500.5 270.6 495.2 269 494 C267.4 492.8 262.6 491 261 490 C259.4 489 254.3 485.3 253 484 C251.7 482.7 248.9 478.4 248 477 C247.1 475.6 245.1 470.5 244 470 C242.9 469.5 238.6 471.6 237 472 C235.4 472.4 227 475.9 228 474Z" fill="#fff" stroke="#3f1a86" stroke-width="4.2" stroke-linejoin="round"/>
<path d="M344 492 C345.2 490 353.6 475.4 356 472 C358.4 468.6 365.5 460.5 368 458 C370.5 455.5 378.8 447.8 381 447 C383.2 446.2 388.1 449.4 390 450 C391.9 450.6 398.2 452.3 400 453 C401.8 453.7 406.4 456.3 408 457 C409.6 457.7 414.3 458.1 416 460 C417.7 461.9 423.5 473.2 425 476 C426.5 478.8 429.5 485.6 431 488 C432.5 490.4 438.1 497.6 440 500 C441.9 502.4 449.9 509.9 450 512 C450.1 514.1 442.9 519.4 441 521 C439.1 522.6 433.5 526.2 431 528 C428.5 529.8 418.8 537.7 416 539 C413.2 540.3 404.6 541.6 403 541 C401.4 540.4 400.6 534.6 400 533 C399.4 531.4 398.6 526.6 397 525 C395.4 523.4 386.2 518.4 384 517 C381.8 515.6 376.7 512.1 375 511 C373.3 509.9 368.3 507.4 367 506 C365.7 504.6 362.8 498.5 362 497 C361.2 495.5 360.8 491.5 359 491 C357.2 490.5 345.5 491.9 344 492 C342.5 492.1 342.8 494 344 492Z" fill="#fff" stroke="#3f1a86" stroke-width="4.2" stroke-linejoin="round"/>
<path d="M462 569 C462 567.3 468.4 554.9 470 552 C471.6 549.1 476.4 542 478 540 C479.6 538 484.4 533.2 486 532 C487.6 530.8 491.8 529.8 494 528 C496.2 526.2 505.2 516.8 508 514 C510.8 511.2 519.4 501.9 522 500 C524.6 498.1 531.8 495.8 534 495 C536.2 494.2 542.6 491.9 544 492 C545.4 492.1 546.8 495.2 548 496 C549.2 496.8 553.9 498.6 556 500 C558.1 501.4 566.9 507.8 569 510 C571.1 512.2 575.5 519.6 577 522 C578.5 524.4 582.2 531.9 584 534 C585.8 536.1 592.8 541.4 595 543 C597.2 544.6 605.4 548.7 606 550 C606.6 551.3 601.6 554.8 601 556 C600.4 557.2 599.8 559.8 600 562 C600.2 564.2 602.4 574.8 603 578 C603.6 581.2 606.1 591.7 606 594 C605.9 596.3 602.9 599.9 602 601 C601.1 602.1 598 604.8 597 605 C596 605.2 593 603.5 592 603 C591 602.5 588.4 602.3 587 600 C585.6 597.7 579.8 583.7 578 580 C576.2 576.3 570.8 564.9 569 563 C567.2 561.1 561.9 561 560 561 C558.1 561 552 563.8 550 563 C548 562.2 542.2 554.8 540 553 C537.8 551.2 530.5 545.5 528 545 C525.5 544.5 517.5 547.2 515 548 C512.5 548.8 505.5 551.8 503 553 C500.5 554.2 492.5 558.7 490 560 C487.5 561.3 480 565.1 478 566 C476 566.9 471.6 568.7 470 569 C468.4 569.3 462 570.7 462 569Z" fill="#fff" stroke="#4b2f90" stroke-width="4.2" stroke-linejoin="round"/>
<path d="M677 554 C677.3 553.1 679.9 548.1 681 547 C682.1 545.9 686.7 543.6 688 543 C689.3 542.4 692.5 540.8 694 541 C695.5 541.2 701.2 544.3 703 545 C704.8 545.7 709.8 547.2 712 548 C714.2 548.8 724 551.6 725 553 C726 554.4 723.3 561.4 722 562 C720.7 562.6 713.9 559.3 712 559 C710.1 558.7 704.8 559.6 703 559 C701.2 558.4 695.9 553 694 553 C692.1 553 685.6 558.7 684 559 C682.4 559.3 678.7 556.5 678 556 C677.3 555.5 676.7 554.9 677 554Z" fill="#fff" stroke="#5a58a4" stroke-width="4.2" stroke-linejoin="round"/>
<path d="M397 586 L434 591 L406 606Z" fill="#5a3d94" stroke="#5a3d94" stroke-width="2" stroke-linejoin="round"/>
<path d="M328 494 L344 491 L339 505Z" fill="#5a3d94" stroke="#5a3d94" stroke-width="2" stroke-linejoin="round"/>
<path d="M464 524 L494 528 L478 541Z" fill="#5a3d94" stroke="#5a3d94" stroke-width="2" stroke-linejoin="round"/>
<path d="M631 583 L656 573 L650 595Z" fill="#5a3d94" stroke="#5a3d94" stroke-width="2" stroke-linejoin="round"/>
<path d="M44 686 C41.6 686.2 21.4 689 20 688 C18.6 687 27.6 678.9 30 676 C32.4 673.1 42.2 661.8 44 659 C45.8 656.2 47.1 650.1 48 648 C48.9 645.9 51.6 639.7 53 638 C54.4 636.3 59.8 632.3 62 631 C64.2 629.7 73.4 626.6 75 625 C76.6 623.4 77.5 616.7 78 615 C78.5 613.3 80.6 608.9 80 608 C79.4 607.1 73.3 606.6 72 606 C70.7 605.4 65.7 603.2 67 602 C68.3 600.8 80.8 596.2 85 594 C89.2 591.8 102.9 585.2 109 580 C115.1 574.8 138.5 549.7 146 542 C153.5 534.3 178.6 508.3 184 503 C189.4 497.7 196.8 491.8 200 489 C203.2 486.2 213.2 476.6 216 475 C218.8 473.4 224.9 475.2 228 473 C231.1 470.8 243.2 456.9 247 453 C250.8 449.1 264.1 435.9 266 434" fill="none" stroke="#3f1a86" stroke-width="4.2" stroke-linejoin="round" stroke-linecap="round"/>
<path d="M266 434 C266.8 434.2 272.5 435.3 274 436 C275.5 436.7 279.6 439.8 281 441 C282.4 442.2 286.7 446.4 288 448 C289.3 449.6 292.8 454.8 294 457 C295.2 459.2 298.8 467.6 300 470 C301.2 472.4 304.4 479.2 306 481 C307.6 482.8 313.8 486.7 316 488 C318.2 489.3 325.8 493.1 328 494 C330.2 494.9 336.4 497.2 338 497 C339.6 496.8 342.2 494.5 344 492 C345.8 489.5 353.6 475.4 356 472 C358.4 468.6 365.5 460.5 368 458 C370.5 455.5 378.8 447.8 381 447 C383.2 446.2 388.1 449.4 390 450 C391.9 450.6 398.2 452.3 400 453 C401.8 453.7 406.4 456.3 408 457 C409.6 457.7 414.3 458.1 416 460 C417.7 461.9 423.5 473.2 425 476 C426.5 478.8 429.5 485.6 431 488 C432.5 490.4 438.1 497.6 440 500 C441.9 502.4 447.6 509.6 450 512 C452.4 514.4 461.2 521.8 464 524 C466.8 526.2 475.8 533.4 478 534 C480.2 534.6 484.4 530.6 486 530 C487.6 529.4 491.8 529.6 494 528 C496.2 526.4 505.2 516.8 508 514 C510.8 511.2 519.4 501.9 522 500 C524.6 498.1 531.8 495.8 534 495 C536.2 494.2 542.6 491.9 544 492 C545.4 492.1 546.8 495.2 548 496 C549.2 496.8 553.9 498.6 556 500 C558.1 501.4 566.9 507.8 569 510 C571.1 512.2 575.5 519.6 577 522 C578.5 524.4 582.2 531.9 584 534 C585.8 536.1 592.8 541.4 595 543 C597.2 544.6 604.4 548.5 606 550 C607.6 551.5 610.5 557.2 611 558" fill="none" stroke="#4b2f90" stroke-width="4.2" stroke-linejoin="round" stroke-linecap="round"/>
<path d="M611 558 C611.5 559.1 614.7 567.1 616 569 C617.3 570.9 622.5 575.6 624 577 C625.5 578.4 629 582.9 631 583 C633 583.1 641.5 579 644 578 C646.5 577 653.6 574.7 656 573 C658.4 571.3 665.5 563.6 668 561 C670.5 558.4 679 548.8 681 547 C683 545.2 686.7 543.6 688 543 C689.3 542.4 692.8 540.9 694 541 C695.2 541.1 698.2 543.3 700 544 C701.8 544.7 709.5 547.1 712 548 C714.5 548.9 722.8 551.4 725 553 C727.2 554.6 732.1 561.8 734 564 C735.9 566.2 741.4 572.6 744 575 C746.6 577.4 756.9 585.5 760 588 C763.1 590.5 772.7 597.6 775 600 C777.3 602.4 781.4 609.5 783 612 C784.6 614.5 789.6 622.8 791 625 C792.4 627.2 795.8 632.4 797 634 C798.2 635.6 802.4 640.3 803 641" fill="none" stroke="#54509c" stroke-width="4.2" stroke-linejoin="round" stroke-linecap="round"/>
<path d="M339 497 C341.2 499.7 347.2 506.5 352 513 C356.8 519.5 362.5 528.2 368 536 C373.5 543.8 380.2 552.2 385 560 C389.8 567.8 393.5 575.7 397 583 C400.5 590.3 404.5 600.5 406 604" fill="none" stroke="#4b2f90" stroke-width="4.2" stroke-linecap="round" stroke-linejoin="round"/>
<path d="M387 634 C388.2 631.7 390.8 624.7 394 620 C397.2 615.3 401.7 609.7 406 606 C410.3 602.3 415.3 600.7 420 598 C424.7 595.3 429.3 593 434 590 C438.7 587 443.3 583.5 448 580 C452.7 576.5 459.7 570.8 462 569" fill="none" stroke="#4b2f90" stroke-width="4.2" stroke-linecap="round" stroke-linejoin="round"/>
<path d="M478 536 C476.7 538.7 472.7 546.5 470 552 C467.3 557.5 463.3 566.2 462 569" fill="none" stroke="#4b2f90" stroke-width="4.2" stroke-linecap="round" stroke-linejoin="round"/>
<path d="M631 583 C634.2 585 644.3 591.3 650 595 C655.7 598.7 660.7 601.8 665 605 C669.3 608.2 673 611.5 676 614 C679 616.5 681.8 619 683 620" fill="none" stroke="#54509c" stroke-width="4.2" stroke-linecap="round" stroke-linejoin="round"/>
<path d="M271 590 L276 594 L281 601 L288 625 L296 651 L305 674 L320 694 L342 708 L365 711 L391 705 L410 707 L430 714 L460 720 L490 719 L520 716 L550 721 L580 724 L610 717 L637 711 L665 716 L694 722 L712 716 L731 711 L756 712 L780 715 L803 711 L825 707 L838 703 L852 698 L878 703 L905 707 L920 693 L936 679 L958 667 L980 657 L998 653 L1017 651 L1036 652 L1055 656 L1053 660 L1052 664 L1034 668 L1017 673 L1004 680 L992 689 L985 696 L980 704 L984 716 L992 732 L1001 743 L1012 752 L1050 753 L1085 750 L1100 742 L1095 765 L1070 785 L1030 800 L982 800 L982 799 L963 795 L945 790 L941 780 L937 771 L930 767 L922 764 L920 754 L919 745 L898 746 L877 749 L862 757 L847 767 L836 774 L825 779 L814 769 L802 760 L789 758 L776 758 L767 759 L757 762 L742 756 L727 751 L711 749 L694 749 L671 748 L649 747 L625 745 L600 747 L576 754 L552 758 L530 752 L504 744 L480 740 L460 745 L440 750 L421 745 L402 736 L388 733 L374 732 L360 735 L342 736 L326 732 L309 728 L290 727 L271 724 L252 719 L241 708 L230 700 L209 692 L192 685 L174 676 L160 667 L178 668 L185 665 L196 672 L215 674 L230 672 L245 683 L264 696 L283 705 L298 703 L294 700 L282 681 L275 661 L268 646 L267 632 L266 618 L269 610 L271 590Z" fill="url(#riv)"/>
<path d="M271 590 C270.7 593 269.8 605.8 269 610 C268.2 614.2 266.3 614.7 266 618 C265.7 621.3 266.7 627.8 267 632 C267.3 636.2 266.8 641.6 268 646 C269.2 650.4 272.9 655.8 275 661 C277.1 666.2 279.1 675.1 282 681 C284.9 686.9 292.2 697.1 294 700" fill="none" stroke="#2563b2" stroke-width="4" stroke-linecap="round" stroke-linejoin="round"/>
<path d="M271 590 C271.8 590.6 274.5 592.4 276 594 C277.5 595.6 279.2 596.4 281 601 C282.8 605.6 285.8 617.5 288 625 C290.2 632.5 293.4 643.6 296 651 C298.6 658.4 301.4 667.5 305 674 C308.6 680.5 314.4 688.9 320 694 C325.6 699.1 335.2 705.5 342 708 C348.8 710.5 357.6 711.5 365 711 C372.4 710.5 384.2 705.6 391 705 C397.8 704.4 404.1 705.6 410 707 C415.9 708.4 422.5 712 430 714 C437.5 716 451 719.2 460 720 C469 720.8 481 719.6 490 719 C499 718.4 511 715.7 520 716 C529 716.3 541 719.8 550 721 C559 722.2 571 724.6 580 724 C589 723.4 601.5 719 610 717 C618.5 715 628.8 711.1 637 711 C645.2 710.9 656.5 714.4 665 716 C673.5 717.6 687 722 694 722 C701 722 706.5 717.6 712 716 C717.5 714.4 724.4 711.6 731 711 C737.6 710.4 748.6 711.4 756 712 C763.4 712.6 773 715.1 780 715 C787 714.9 796.2 712.2 803 711 C809.8 709.8 819.8 708.2 825 707 C830.2 705.8 834 704.4 838 703 C842 701.6 849.9 698.8 852 698" fill="none" stroke="#2563b2" stroke-width="4" stroke-linecap="round" stroke-linejoin="round"/>
<path d="M852 698 C855.9 698.8 870 701.6 878 703 C886 704.4 898.7 708.5 905 707 C911.3 705.5 915.4 697.2 920 693 C924.6 688.8 930.3 682.9 936 679 C941.7 675.1 951.4 670.3 958 667 C964.6 663.7 974 659.1 980 657 C986 654.9 992.5 653.9 998 653 C1003.5 652.1 1011.3 651.1 1017 651 C1022.7 650.9 1030.3 651.2 1036 652 C1041.7 652.8 1052.5 654.8 1055 656 C1057.5 657.2 1053.5 658.8 1053 660 C1052.5 661.2 1054.8 662.8 1052 664 C1049.2 665.2 1039.2 666.6 1034 668 C1028.8 669.4 1021.5 671.2 1017 673 C1012.5 674.8 1007.8 677.6 1004 680 C1000.2 682.4 994.9 686.6 992 689 C989.1 691.4 986.8 693.8 985 696 C983.2 698.2 980.1 701 980 704 C979.9 707 982.2 711.8 984 716 C985.8 720.2 989.5 728 992 732 C994.5 736 998 740 1001 743 C1004 746 1010.4 750.6 1012 752" fill="none" stroke="#2563b2" stroke-width="4" stroke-linecap="round" stroke-linejoin="round"/>
<path d="M160 667 C162.7 667.1 174.2 668.3 178 668 C181.8 667.7 182.3 664.4 185 665 C187.7 665.6 191.5 670.6 196 672 C200.5 673.4 209.9 674 215 674 C220.1 674 225.5 670.6 230 672 C234.5 673.4 239.9 679.4 245 683 C250.1 686.6 258.3 692.7 264 696 C269.7 699.3 280.1 703.6 283 705" fill="none" stroke="#2563b2" stroke-width="4" stroke-linecap="round" stroke-linejoin="round"/>
<path d="M160 667 C162.1 668.4 169.2 673.3 174 676 C178.8 678.7 186.8 682.6 192 685 C197.2 687.4 203.3 689.8 209 692 C214.7 694.2 225.2 697.6 230 700 C234.8 702.4 237.7 705.1 241 708 C244.3 710.9 247.5 716.6 252 719 C256.5 721.4 265.3 722.8 271 724 C276.7 725.2 284.3 726.4 290 727 C295.7 727.6 303.6 727.2 309 728 C314.4 728.8 321.1 730.8 326 732 C330.9 733.2 336.9 735.5 342 736 C347.1 736.5 355.2 735.6 360 735 C364.8 734.4 369.8 732.3 374 732 C378.2 731.7 383.8 732.4 388 733 C392.2 733.6 397.1 734.2 402 736 C406.9 737.8 415.3 742.9 421 745 C426.7 747.1 434.1 750 440 750 C445.9 750 454 746.5 460 745 C466 743.5 473.4 740.1 480 740 C486.6 739.9 496.5 742.2 504 744 C511.5 745.8 522.8 749.9 530 752 C537.2 754.1 545.1 757.7 552 758 C558.9 758.3 568.8 755.6 576 754 C583.2 752.4 592.6 748.4 600 747 C607.4 745.6 617.6 745 625 745 C632.4 745 642.1 746.5 649 747 C655.9 747.5 664.2 747.7 671 748 C677.8 748.3 688 748.9 694 749 C700 749.1 706 748.7 711 749 C716 749.3 722.4 750 727 751 C731.6 752 737.5 754.4 742 756 C746.5 757.6 753.2 761.5 757 762 C760.8 762.5 764.1 759.6 767 759 C769.9 758.4 772.7 758.1 776 758 C779.3 757.9 785.1 757.7 789 758 C792.9 758.3 798.2 758.4 802 760 C805.8 761.6 810.5 766.1 814 769 C817.5 771.9 821.7 778.2 825 779 C828.3 779.8 832.7 775.8 836 774 C839.3 772.2 843.1 769.5 847 767 C850.9 764.5 857.5 759.7 862 757 C866.5 754.3 871.6 750.6 877 749 C882.4 747.4 891.7 746.6 898 746 C904.3 745.4 915.7 743.8 919 745 C922.3 746.2 919.5 751.1 920 754 C920.5 756.9 920.5 762 922 764 C923.5 766 927.8 766 930 767 C932.2 768 935.4 769 937 771 C938.6 773 939.8 777.1 941 780 C942.2 782.9 941.7 787.8 945 790 C948.3 792.2 957.5 793.6 963 795 C968.5 796.4 979.1 798.4 982 799" fill="none" stroke="#2563b2" stroke-width="4" stroke-linecap="round" stroke-linejoin="round"/>
<path d="M283 705 L297 701 L309 711 L316 720 L305 719 Z" fill="#2563b2" stroke="#2563b2" stroke-width="2" stroke-linejoin="round"/>
<path d="M330 712 q10.8 -1.1 21.7 3.8" fill="none" stroke="#8ccadc" stroke-opacity="0.75" stroke-width="2.5" stroke-linecap="round"/>
<path d="M380 720 q13 -1.9 25.9 2.3" fill="none" stroke="#8ccadc" stroke-opacity="0.75" stroke-width="2.5" stroke-linecap="round"/>
<path d="M440 728 q11.4 0.7 22.8 7.4" fill="none" stroke="#8ccadc" stroke-opacity="0.75" stroke-width="2.5" stroke-linecap="round"/>
<path d="M500 730 q13 -4.1 25.9 -2.3" fill="none" stroke="#8ccadc" stroke-opacity="0.75" stroke-width="2.5" stroke-linecap="round"/>
<path d="M560 740 q10.8 -0.7 21.5 4.6" fill="none" stroke="#8ccadc" stroke-opacity="0.75" stroke-width="2.5" stroke-linecap="round"/>
<path d="M620 730 q12.9 -4.8 25.7 -3.6" fill="none" stroke="#8ccadc" stroke-opacity="0.75" stroke-width="2.5" stroke-linecap="round"/>
<path d="M680 736 q12 -2.4 24 1.3" fill="none" stroke="#8ccadc" stroke-opacity="0.75" stroke-width="2.5" stroke-linecap="round"/>
<path d="M740 732 q11.9 -1.7 23.9 2.5" fill="none" stroke="#8ccadc" stroke-opacity="0.75" stroke-width="2.5" stroke-linecap="round"/>
<path d="M800 738 q9.8 -1.3 19.7 3.5" fill="none" stroke="#8ccadc" stroke-opacity="0.75" stroke-width="2.5" stroke-linecap="round"/>
<path d="M860 724 q10.9 -8.1 21.8 -10.1" fill="none" stroke="#8ccadc" stroke-opacity="0.75" stroke-width="2.5" stroke-linecap="round"/>
<path d="M900 722 q11.8 -5.1 23.6 -4.2" fill="none" stroke="#8ccadc" stroke-opacity="0.75" stroke-width="2.5" stroke-linecap="round"/>
<path d="M950 700 q10.6 -10.5 21.3 -14.9" fill="none" stroke="#8ccadc" stroke-opacity="0.75" stroke-width="2.5" stroke-linecap="round"/>
<path d="M990 672 q12.6 -6.4 25.1 -6.7" fill="none" stroke="#8ccadc" stroke-opacity="0.75" stroke-width="2.5" stroke-linecap="round"/>
<path d="M280 640 q2.1 4.7 4.1 15.5" fill="none" stroke="#8ccadc" stroke-opacity="0.75" stroke-width="2.5" stroke-linecap="round"/>
<path d="M286 670 q3 3.3 5.9 12.7" fill="none" stroke="#8ccadc" stroke-opacity="0.75" stroke-width="2.5" stroke-linecap="round"/>
<path d="M200 684 q7.5 -0.3 15 5.5" fill="none" stroke="#8ccadc" stroke-opacity="0.75" stroke-width="2.5" stroke-linecap="round"/>
<path d="M944 754 q5.1 3.1 10.3 12.3" fill="none" stroke="#8ccadc" stroke-opacity="0.75" stroke-width="2.5" stroke-linecap="round"/>
<path d="M966 772 q5.4 1.5 10.7 9" fill="none" stroke="#8ccadc" stroke-opacity="0.75" stroke-width="2.5" stroke-linecap="round"/>
<path d="M803 641 C805.3 640.9 813.7 640.5 820 640 C826.3 639.5 842.8 637.5 850 637 C857.2 636.5 868 636.8 874 636 C880 635.2 889.7 632.5 895 631 C900.3 629.5 909.9 626.3 914 625 C918.1 623.7 923.1 621.7 926 621 C928.9 620.3 934.5 619.5 936 620 C937.5 620.5 936.6 623.8 937 625 C937.4 626.2 937.3 628.9 939 629 C940.7 629.1 946.3 627.2 950 626 C953.7 624.8 962.7 620.4 967 620 C971.3 619.6 978.3 622.2 982 623 C985.7 623.8 992.9 626.3 995 626 C997.1 625.7 997.5 622.2 998 621 C998.5 619.8 999.7 618.1 999 617 C998.3 615.9 994.3 613.8 993 613 C991.7 612.2 988.1 611.3 989 611 C989.9 610.7 997.1 610.6 1000 611 C1002.9 611.4 1007.3 612.7 1011 614 C1014.7 615.3 1023.3 619 1028 621 C1032.7 623 1042.1 627.5 1046 629 C1049.9 630.5 1054.2 631.5 1057 632 C1059.8 632.5 1065.4 633.5 1067 633 C1068.6 632.5 1068.5 629.3 1069 628 C1069.5 626.7 1069.3 623.8 1071 623 C1072.7 622.2 1079.1 622 1082 622 C1084.9 622 1089.7 622.5 1093 623 C1096.3 623.5 1103.4 625.2 1107 626 C1110.6 626.8 1118 629.8 1120 629 C1122 628.2 1121.5 622.3 1122 620 C1122.5 617.7 1121.6 613.3 1124 612 C1126.4 610.7 1135.9 610.1 1140 610 C1144.1 609.9 1151 610.3 1155 611 C1159 611.7 1166.3 613.8 1170 615 C1173.7 616.2 1180.2 618.7 1183 620 C1185.8 621.3 1189 623.7 1191 625 C1193 626.3 1196.8 630 1198 630 C1199.2 630 1199.6 626.3 1200 625 C1200.4 623.7 1199.3 621.1 1201 620 C1202.7 618.9 1209.7 617.5 1213 617 C1216.3 616.5 1222.3 615.6 1226 616 C1229.7 616.4 1237 618.7 1241 620 C1245 621.3 1251.5 624.1 1256 626 C1260.5 627.9 1269.9 632 1275 634 C1280.1 636 1290.5 640.1 1294 641 C1297.5 641.9 1299.4 641.4 1301 641 C1302.6 640.6 1306.1 639.1 1306 638 C1305.9 636.9 1301.6 634.2 1300 633 C1298.4 631.8 1293.6 629.9 1294 629 C1294.4 628.1 1300.6 626.7 1303 626 C1305.4 625.3 1309.1 624.1 1312 624 C1314.9 623.9 1321.7 624.6 1325 625 C1328.3 625.4 1334.1 626.3 1337 627 C1339.9 627.7 1344.5 629.2 1347 630 C1349.5 630.8 1354.1 633.4 1356 633 C1357.9 632.6 1359.7 628.6 1361 627 C1362.3 625.4 1364.5 622.1 1366 621 C1367.5 619.9 1370.4 619.3 1372 619 C1373.6 618.7 1376.9 618.5 1378 619 C1379.1 619.5 1379.6 621.9 1380 623 C1380.4 624.1 1380.2 625.7 1381 627 C1381.8 628.3 1384.7 631.5 1386 633 C1387.3 634.5 1389.8 638 1391 638 C1392.2 638 1393.8 634.5 1395 633 C1396.2 631.5 1396.7 628.2 1400 627 C1403.3 625.8 1414.8 624.7 1420 624 C1425.2 623.3 1436.7 621.3 1439 622 C1441.3 622.7 1437.7 627.3 1437 629 C1436.3 630.7 1431.6 634.7 1434 635 C1436.4 635.3 1449.5 632.1 1455 631 C1460.5 629.9 1469.7 627.8 1475 627 C1480.3 626.2 1489.5 625.4 1495 625 C1500.5 624.6 1513.5 623.3 1516 624 C1518.5 624.7 1514.5 628.4 1514 630 C1513.5 631.6 1510.5 635.5 1512 636 C1513.5 636.5 1521.5 634.5 1525 634 C1528.5 633.5 1534.3 632.1 1538 632 C1541.7 631.9 1551 632.9 1553 633" fill="none" stroke="#3f62b0" stroke-width="4" stroke-linecap="round" stroke-linejoin="round"/>
<path d="M1012 752 C1016.2 752.3 1029.8 754 1040 754 C1050.2 754 1072.5 754.1 1080 752 C1087.5 749.9 1087.2 743.3 1090 740 C1092.8 736.7 1095.8 732.5 1099 730 C1102.2 727.5 1107.1 724.6 1111 723 C1114.9 721.4 1121.1 719.8 1125 719 C1128.9 718.2 1133.5 718 1137 718 C1140.5 718 1147.7 717.6 1148 719 C1148.3 720.4 1141.4 724.3 1139 727 C1136.6 729.7 1132.2 734.1 1132 737 C1131.8 739.9 1135.6 743.8 1138 746 C1140.4 748.2 1144.7 751.2 1148 752 C1151.3 752.8 1156.7 751.6 1160 751 C1163.3 750.4 1167.3 750 1170 748 C1172.7 746 1174.7 741.1 1178 738 C1181.3 734.9 1187.8 729.9 1192 727 C1196.2 724.1 1200.9 721 1206 719 C1211.1 717 1219.8 714.9 1226 714 C1232.2 713.1 1244.6 711.8 1247 713 C1249.4 714.2 1243 719.1 1242 722 C1241 724.9 1239.4 729.3 1240 732 C1240.6 734.7 1243.6 738.2 1246 740 C1248.4 741.8 1252.7 744 1256 744 C1259.3 744 1264.2 741.6 1268 740 C1271.8 738.4 1276.8 736 1281 733 C1285.2 730 1291.3 723.9 1296 720 C1300.7 716.1 1307.8 709.9 1312 707 C1316.2 704.1 1320.2 702.4 1324 701 C1327.8 699.6 1333.2 698.3 1337 698 C1340.8 697.7 1345.7 698.1 1349 699 C1352.3 699.9 1358.8 702.2 1359 704 C1359.2 705.8 1352.2 708.8 1350 711 C1347.8 713.2 1344.9 716.5 1344 719 C1343.1 721.5 1343.5 725.6 1344 728 C1344.5 730.4 1345 733.2 1347 735 C1349 736.8 1353.7 739.1 1357 740 C1360.3 740.9 1365 742 1369 741 C1373 740 1379.3 735.9 1384 733 C1388.7 730.1 1395.5 724.5 1400 722 C1404.5 719.5 1409.8 717.4 1414 716 C1418.2 714.6 1424.5 713.3 1428 713 C1431.5 712.7 1434.6 713.1 1437 714 C1439.4 714.9 1444.2 717.5 1444 719 C1443.8 720.5 1438 722.4 1436 724 C1434 725.6 1431.3 727.9 1431 730 C1430.7 732.1 1432.5 736 1434 738 C1435.5 740 1438.6 742.1 1441 743 C1443.4 743.9 1447.3 744 1450 744 C1452.7 744 1455.4 744.8 1459 743 C1462.6 741.2 1469.3 735.6 1474 732 C1478.7 728.4 1484.6 722.8 1490 719 C1495.4 715.2 1503.8 710.1 1510 707 C1516.2 703.9 1525.5 699.4 1531 698 C1536.5 696.6 1542.5 697.4 1547 698 C1551.5 698.6 1560.1 699.9 1561 702 C1561.9 704.1 1555.1 709 1553 712 C1550.9 715 1548.3 718.9 1547 722 C1545.7 725.1 1544.5 729.7 1544 733 C1543.5 736.3 1544 742.4 1544 744" fill="none" stroke="#2a62b4" stroke-width="4" stroke-linecap="round" stroke-linejoin="round"/>
<path d="M1124 660 C1126.4 657.9 1134.9 649 1140 646 C1145.1 643 1154.1 640.6 1158 640 C1161.9 639.4 1166.3 640.2 1166 642 C1165.7 643.8 1156.6 649.3 1156 652 C1155.4 654.7 1158.7 658.2 1162 660 C1165.3 661.8 1172.6 663.7 1178 664 C1183.4 664.3 1196.2 660.8 1198 662 C1199.8 663.2 1190.3 669.3 1190 672 C1189.7 674.7 1192.4 679.4 1196 680 C1199.6 680.6 1208 677.2 1214 676 C1220 674.8 1232.7 672.6 1236 672" fill="none" stroke="#2a62b4" stroke-width="3.6" stroke-linecap="round" stroke-linejoin="round"/>
<path d="M1216 648 C1217.8 647.7 1226.8 647.2 1228 646 C1229.2 644.8 1223.4 641.5 1224 640 C1224.6 638.5 1228.1 636.3 1232 636 C1235.9 635.7 1244.9 636.8 1250 638 C1255.1 639.2 1263.6 643.1 1266 644" fill="none" stroke="#2a62b4" stroke-width="3.6" stroke-linecap="round" stroke-linejoin="round"/>
<path d="M1269 672 C1271.4 669.9 1279.5 661 1285 658 C1290.5 655 1300.5 652.6 1306 652 C1311.5 651.4 1320.5 652.2 1322 654 C1323.5 655.8 1316 661.3 1316 664 C1316 666.7 1318.4 671.1 1322 672 C1325.6 672.9 1334 670.6 1340 670 C1346 669.4 1359.9 666.8 1362 668 C1364.1 669.2 1355.2 676.5 1354 678" fill="none" stroke="#2a62b4" stroke-width="3.6" stroke-linecap="round" stroke-linejoin="round"/>
<path d="M1434 646 C1436.7 645.4 1446.6 642 1452 642 C1457.4 642 1464.6 643.9 1470 646 C1475.4 648.1 1484.1 652.7 1488 656 C1491.9 659.3 1494.8 666.2 1496 668" fill="none" stroke="#2a62b4" stroke-width="3.6" stroke-linecap="round" stroke-linejoin="round"/>
<path d="M1444 654 C1447.3 654.9 1469 657.1 1466 660 C1463 662.9 1427.9 671.5 1424 673 C1420.1 674.5 1438.5 671.4 1440 670 C1441.5 668.6 1436.4 664.9 1434 664 C1431.6 663.1 1425.5 664 1424 664" fill="none" stroke="#2a62b4" stroke-width="3.6" stroke-linecap="round" stroke-linejoin="round"/>
<path d="M1466 700 C1467.5 698.8 1472.4 693.8 1476 692 C1479.6 690.2 1487 688 1490 688 C1493 688 1496 690.5 1496 692 C1496 693.5 1490 696.2 1490 698 C1490 699.8 1495.1 703.1 1496 704" fill="none" stroke="#2a62b4" stroke-width="3.6" stroke-linecap="round" stroke-linejoin="round"/>
<path d="M1023 706 C1025.5 704.8 1034.8 700.4 1040 698 C1045.2 695.6 1052.6 691.8 1058 690 C1063.4 688.2 1072.4 686.3 1076 686 C1079.6 685.7 1082 686.5 1082 688 C1082 689.5 1076 693.6 1076 696 C1076 698.4 1078.7 702.2 1082 704 C1085.3 705.8 1095.6 707.4 1098 708" fill="none" stroke="#2a62b4" stroke-width="3.6" stroke-linecap="round" stroke-linejoin="round"/>
<path d="M1086 985 L1150 982 L1240 981 L1300 983 L1400 980 L1480 982 L1520 981 L1543 985 L1520 993 L1400 995 L1250 997 L1088 999 Z" fill="url(#floor)" stroke="#6e3a2e" stroke-width="3.4" stroke-linejoin="round"/>
<path d="M1095 984 L1116 983 L1119 996 L1098 997 Z" fill="#ff9a2e" stroke="#6e3a2e" stroke-width="2.4"/>
<path d="M1186 984 L1208 983 L1211 996 L1189 997 Z" fill="#ff9a2e" stroke="#6e3a2e" stroke-width="2.4"/>
<path d="M1282 984 L1296 983 L1299 996 L1285 997 Z" fill="#ff9a2e" stroke="#6e3a2e" stroke-width="2.4"/>
<path d="M1368 984 L1394 983 L1397 996 L1371 997 Z" fill="#ff9a2e" stroke="#6e3a2e" stroke-width="2.4"/>
<path d="M1512 983 Q1530 981 1544 986 Q1530 992 1514 992 Z" fill="#5a1e14" stroke="#5a1e14" stroke-width="2"/>
<rect x="1068" y="975" width="4" height="4" fill="#f0903c" transform="rotate(20 1068 975)"/>
<rect x="1074" y="955" width="4" height="4" fill="#f0903c" transform="rotate(20 1074 955)"/>
<rect x="1088" y="972" width="4" height="4" fill="#f0903c" transform="rotate(20 1088 972)"/>
<rect x="1100" y="980" width="4" height="4" fill="#f0903c" transform="rotate(20 1100 980)"/>
<rect x="1124" y="970" width="4" height="4" fill="#f0903c" transform="rotate(20 1124 970)"/>
<rect x="1140" y="974" width="4" height="4" fill="#f0903c" transform="rotate(20 1140 974)"/>
<rect x="1150" y="975" width="4" height="4" fill="#f0903c" transform="rotate(20 1150 975)"/>
<rect x="1440" y="956" width="4" height="4" fill="#f0903c" transform="rotate(20 1440 956)"/>
<rect x="1452" y="970" width="4" height="4" fill="#f0903c" transform="rotate(20 1452 970)"/>
<rect x="1462" y="975" width="4" height="4" fill="#f0903c" transform="rotate(20 1462 975)"/>
<rect x="1470" y="978" width="4" height="4" fill="#f0903c" transform="rotate(20 1470 978)"/>
<rect x="1478" y="965" width="4" height="4" fill="#f0903c" transform="rotate(20 1478 965)"/>
<rect x="1486" y="970" width="4" height="4" fill="#f0903c" transform="rotate(20 1486 970)"/>
<rect x="1494" y="976" width="4" height="4" fill="#f0903c" transform="rotate(20 1494 976)"/>
<rect x="1502" y="952" width="4" height="4" fill="#f0903c" transform="rotate(20 1502 952)"/>
<rect x="1244" y="975" width="4" height="4" fill="#f0903c" transform="rotate(20 1244 975)"/>
<path d="M1155.6 979.4 C1155.4 978.7 1159 975.8 1160.6 975.1 C1162.2 974.4 1165.9 974.9 1167.5 974.2 C1169.1 973.5 1171.9 971.3 1172.5 970 C1173.1 968.7 1172.6 966.1 1172.2 964.8 C1171.7 963.5 1169.6 961.5 1169.1 960.2 C1168.7 958.9 1169.6 956 1168.7 955 C1167.9 954 1164.2 953.2 1162.5 952.5 C1160.8 951.9 1157.8 950.8 1156.2 950.2 C1154.5 949.5 1151.7 947.9 1150 947.5 C1148.3 947.1 1145 947.1 1143.1 947 C1141.3 946.8 1138.1 946.4 1136.2 946.5 C1134.4 946.5 1130.7 948 1129.4 947.5 C1128.1 947 1127 944 1126.6 942.6 C1126.3 941.2 1126 938.1 1126.7 937 C1127.5 935.9 1130.7 934.3 1132.2 934.2 C1133.8 934.1 1137 936 1138.6 935.9 C1140.2 935.8 1142.6 933.8 1144.1 933.4 C1145.7 932.9 1148.5 933 1150 932.5 C1151.5 932 1154.4 930.7 1155.6 929.5 C1156.8 928.3 1157.7 924.7 1158.9 923.6 C1160.2 922.5 1164.2 922.2 1165 921.2 C1165.7 920.3 1164.5 917.6 1164.6 916.3 C1164.6 914.9 1165.3 912.5 1165.3 911.2 C1165.3 909.9 1164 907.6 1164.2 906.2 C1164.5 904.9 1166.2 902 1167.4 900.9 C1168.7 899.8 1172.1 898.9 1173.4 897.9 C1174.6 896.9 1176.3 894.5 1177.2 893.1 C1178.1 891.7 1179.3 889 1180 887.5 C1180.7 886 1181.6 883.1 1182.4 881.8 C1183.3 880.4 1185 878.2 1186.2 877.1 C1187.4 876 1190.2 874.6 1191.4 873.5 C1192.5 872.4 1193.9 869.1 1195 868.7 C1196.1 868.4 1198.1 871 1199.4 871.2 C1200.6 871.5 1204.1 869.9 1204.4 870.6 C1204.7 871.4 1202.2 875.2 1201.5 876.9 C1200.7 878.6 1199.6 881.7 1198.7 883.3 C1197.8 884.9 1195.8 887.5 1194.8 889 C1193.8 890.6 1191.6 893.4 1191.2 895 C1190.9 896.6 1192.1 899.4 1192 900.9 C1191.9 902.4 1190.8 904.9 1190.4 906.4 C1189.9 907.9 1189 910.4 1188.7 911.9 C1188.3 913.4 1187.2 916 1187.5 917.5 C1187.8 919 1190.3 921.6 1191.3 923.1 C1192.3 924.6 1193.8 927.9 1195 928.7 C1196.2 929.6 1199 929.3 1200.3 929.7 C1201.7 930.1 1204 931 1205.3 931.6 C1206.6 932.2 1208.6 933.9 1210 934.4 C1211.4 934.9 1214.4 934.8 1215.9 935.3 C1217.4 935.8 1220.5 937.1 1221.2 938.1 C1222 939.1 1221.7 941.5 1221.8 942.8 C1221.9 944 1222.7 946.4 1222 947.5 C1221.3 948.6 1217.9 949.8 1216.4 950.7 C1214.9 951.6 1212.5 953.5 1210.9 954.1 C1209.3 954.7 1204.7 954.1 1204.4 955 C1204 955.9 1207 959.3 1208.2 960.5 C1209.5 961.8 1212.2 963.7 1213.7 964.4 C1215.3 965.1 1218.3 965.4 1220 965.8 C1221.6 966.2 1224.5 967.1 1226.1 967.4 C1227.8 967.7 1231.2 967.4 1232.5 968.1 C1233.8 968.8 1235.2 971.4 1235.8 972.7 C1236.4 974.1 1237.7 977.7 1237 978.2 C1236.3 978.8 1232 976.7 1230.2 976.6 C1228.4 976.4 1225.2 976.7 1223.4 977.1 C1221.6 977.6 1218.5 979.6 1216.7 979.9 C1214.9 980.2 1211.7 979.5 1209.9 979.2 C1208.1 979 1204.9 978.1 1203.1 977.9 C1201.3 977.8 1198.1 978.1 1196.3 978 C1194.5 978 1191.3 977.2 1189.5 977.3 C1187.7 977.5 1184.6 979.2 1182.8 979.3 C1180.9 979.4 1177.8 978 1176 977.9 C1174.1 977.8 1171 978.3 1169.2 978.6 C1167.4 978.8 1164.2 979.9 1162.4 980 C1160.6 980.1 1155.9 980 1155.6 979.4Z" fill="#f38c96" stroke="#6e3a2e" stroke-width="3.5" stroke-linejoin="round"/>
<path d="M1318.7 978.2 C1318.3 977.5 1321.7 974.3 1322.2 972.7 C1322.7 971.1 1321.5 967.2 1322.5 966.2 C1323.5 965.2 1327.8 966.1 1329.3 965.2 C1330.9 964.4 1332.8 960.6 1334.4 959.8 C1336 958.9 1340.4 959.6 1341.2 958.7 C1342.1 957.9 1340.6 954.7 1341 953.4 C1341.5 952.1 1344.4 950.3 1344.9 949 C1345.4 947.8 1344.3 944.9 1345 943.7 C1345.7 942.6 1349 941.7 1350.2 940.7 C1351.5 939.7 1354.4 937.2 1354.4 936.2 C1354.3 935.3 1351.1 933.9 1349.8 933.4 C1348.4 932.8 1345.6 932.8 1344.3 932.2 C1343 931.6 1341.2 929.6 1339.9 928.9 C1338.7 928.2 1334.8 927.7 1334.9 926.9 C1334.9 926.1 1339 924.1 1340.5 923 C1341.9 921.9 1344.4 920 1345.7 918.7 C1347 917.4 1348.7 914.4 1350.1 913.3 C1351.5 912.1 1355.3 911.1 1356.2 910 C1357.2 908.9 1357 906.3 1357.3 904.9 C1357.5 903.6 1358 901.2 1358.4 899.9 C1358.7 898.6 1359.5 896.4 1360 895 C1360.5 893.6 1361.6 891 1362.2 889.6 C1362.8 888.1 1364.1 885.7 1364.5 884.2 C1365 882.7 1365.6 880.1 1365.8 878.5 C1365.9 877 1365.7 874.1 1365.6 872.5 C1365.5 870.9 1365.3 867.9 1365.2 866.2 C1365 864.6 1364.4 861.7 1364.2 860 C1364 858.4 1363.8 855.5 1363.7 853.7 C1363.7 852 1363.9 848.6 1363.9 846.8 C1364 844.9 1363.7 841.6 1364.1 839.8 C1364.5 837.9 1366 833.4 1366.7 833.1 C1367.5 832.9 1369.2 836.5 1369.5 837.9 C1369.8 839.3 1369 842 1369.1 843.4 C1369.3 844.8 1370.5 847.1 1370.8 848.5 C1371 849.8 1371 852.2 1371.2 853.7 C1371.5 855.3 1372.8 858.2 1372.9 859.9 C1373.1 861.6 1372.1 864.8 1372.4 866.5 C1372.6 868.2 1374.5 870.9 1375 872.5 C1375.5 874.1 1375.8 877.1 1376.2 878.8 C1376.5 880.4 1376.9 883.4 1377.3 885 C1377.6 886.7 1378 890.1 1378.7 891.2 C1379.5 892.4 1382 893 1383.1 893.6 C1384.2 894.3 1386.4 895.3 1387.3 896.2 C1388.3 897.1 1388.9 900 1390 900.6 C1391.1 901.3 1394.2 900.7 1395.7 900.9 C1397.2 901.2 1399.7 902.5 1401.2 902.5 C1402.8 902.5 1405.5 901.2 1407 901.2 C1408.6 901.2 1411.3 902.1 1412.8 902.5 C1414.3 902.9 1417 904.2 1418.6 904.3 C1420.1 904.4 1422.8 903.4 1424.3 903.1 C1425.9 902.9 1429.2 901.8 1430.1 902.5 C1431 903.2 1431.9 907.3 1431.2 908.5 C1430.6 909.7 1426.9 911.4 1425.1 911.8 C1423.2 912.3 1419.5 911.3 1417.7 911.7 C1415.8 912 1412.9 913.5 1411.2 914.2 C1409.5 915 1406.5 916.8 1405 917.5 C1403.5 918.2 1401.2 919 1399.9 919.6 C1398.5 920.2 1396.1 921.1 1394.9 921.9 C1393.6 922.6 1391.6 924.2 1390.4 925.1 C1389.3 926 1387.4 927.9 1386.2 928.7 C1385.1 929.6 1382.7 930.7 1381.8 931.8 C1380.8 932.8 1380 935.5 1379.1 936.6 C1378.2 937.7 1375.6 938.8 1375 940 C1374.4 941.2 1374.4 944 1374.6 945.4 C1374.7 946.8 1375.3 949.1 1375.9 950.4 C1376.4 951.7 1378.5 953.6 1378.7 955 C1379 956.4 1378.5 959.5 1378 961 C1377.5 962.5 1374.8 965.1 1375 966.2 C1375.2 967.4 1378.3 968.8 1379.6 969.6 C1380.9 970.3 1383.3 971.4 1384.6 971.9 C1386 972.5 1388.7 972.7 1390 973.7 C1391.3 974.8 1394.8 978.9 1394.5 979.7 C1394.2 980.5 1389.4 979.8 1387.6 979.7 C1385.8 979.7 1382.6 979.4 1380.7 979.4 C1378.9 979.3 1375.7 979.6 1373.8 979.4 C1372 979.1 1368.8 977.7 1367 977.7 C1365.1 977.6 1361.9 979.1 1360.1 979.1 C1358.2 979.1 1355 977.7 1353.2 977.7 C1351.4 977.8 1348.1 979.4 1346.3 979.3 C1344.4 979.3 1341.3 977.6 1339.4 977.3 C1337.6 977 1334.4 976.9 1332.5 977.1 C1330.7 977.2 1327.5 978.4 1325.6 978.5 C1323.8 978.7 1319.2 979 1318.7 978.2Z" fill="#f38c96" stroke="#6e3a2e" stroke-width="3.5" stroke-linejoin="round"/>
<path d="M1397.5 978.2 C1396.6 977.5 1397.3 974.8 1397.5 973.5 C1397.7 972.3 1398.6 970.2 1398.9 969 C1399.1 967.8 1398.6 965.6 1399.4 964.4 C1400.2 963.2 1403.3 961.1 1404.8 960 C1406.3 958.9 1409.2 955.9 1410.6 956.1 C1412 956.3 1413.9 960 1415.1 961.4 C1416.4 962.7 1418.6 965.5 1420 966.2 C1421.4 967 1424.1 966.9 1425.6 966.8 C1427.1 966.8 1429.8 965.9 1431.3 965.8 C1432.8 965.6 1435.4 965.7 1436.9 965.9 C1438.4 966.1 1441.1 966.9 1442.5 967.4 C1443.9 967.8 1446 969.1 1447.4 969.5 C1448.7 969.8 1452 969.3 1452.6 970 C1453.3 970.7 1452.5 973.7 1452.2 975 C1452 976.3 1451.8 979.1 1450.7 979.7 C1449.7 980.4 1445.8 980.4 1444.1 980.2 C1442.3 980 1439.2 978.3 1437.5 978.2 C1435.7 978.1 1432.6 979.3 1430.8 979.3 C1429 979.3 1425.9 978.2 1424.1 978.2 C1422.4 978.1 1419.2 978.9 1417.5 978.9 C1415.7 978.9 1412.6 978.2 1410.8 978.3 C1409 978.3 1405.9 979.3 1404.1 979.3 C1402.4 979.3 1398.4 979 1397.5 978.2Z" fill="#f38c96" stroke="#6e3a2e" stroke-width="3.5" stroke-linejoin="round"/>
<path d="M1360 917.5 C1362.7 911.5 1367.4 884.7 1369.4 883.7 C1371.4 882.7 1371.2 906.5 1375 910 C1378.7 913.5 1397.5 907.5 1397.5 910 C1397.5 912.5 1380 925.2 1375 928.7 C1370 932.2 1363.5 936.2 1360 936.2 C1356.5 936.2 1348.7 931.2 1348.7 928.7 C1348.7 926.2 1357.2 923.5 1360 917.5Z" fill="#f8b4b4" opacity="0.8"/>
<path d="M1170.6 938.1 C1171.6 939.1 1174.4 943.4 1176.2 943.7 C1178.1 944.1 1180.3 939.4 1181.9 940 C1183.4 940.6 1185 946.2 1185.6 947.5" fill="none" stroke="#6e3a2e" stroke-width="2.5" stroke-linecap="round"/>
<path d="M1187.5 970 C1188.4 969.4 1191.2 965.9 1193.1 966.2 C1195 966.6 1197.8 970.9 1198.7 971.9" fill="none" stroke="#6e3a2e" stroke-width="2.5" stroke-linecap="round"/>
<path d="M1360 913.7 C1361.9 913.1 1368.4 911.6 1371.2 910 C1374.1 908.4 1375.9 905.3 1376.9 904.4" fill="none" stroke="#6e3a2e" stroke-width="2.5" stroke-linecap="round"/>
<path d="M1352.5 970 C1353.4 970.9 1355.9 975.3 1358.1 975.6 C1360.3 975.9 1364.4 972.5 1365.6 971.9" fill="none" stroke="#6e3a2e" stroke-width="2.5" stroke-linecap="round"/>
<path d="M1378.7 898.7 L1386.2 904.4" fill="none" stroke="#6e3a2e" stroke-width="2.5" stroke-linecap="round"/>
<circle cx="1180" cy="902.5" r="1.8" fill="#6e3a2e"/>
<circle cx="1161.2" cy="940" r="1.8" fill="#6e3a2e"/>
<circle cx="1210" cy="941.9" r="1.8" fill="#6e3a2e"/>
<circle cx="1356.2" cy="956.9" r="1.8" fill="#6e3a2e"/>
<circle cx="1431.2" cy="973.7" r="1.8" fill="#6e3a2e"/>
<circle cx="1412.5" cy="964.4" r="1.8" fill="#6e3a2e"/>
<path d="M1092 846 C1088.4 844.9 1085.4 856.4 1082 860 C1078.6 863.6 1070.5 873.4 1068 872 C1065.5 870.6 1065.1 855.9 1064 850 C1062.9 844.1 1060.7 835.9 1060 830 C1059.3 824.1 1056.9 810.8 1059 808 C1061.1 805.2 1070.4 807.8 1075 810 C1079.6 812.2 1087.9 823.7 1092 824 C1096.1 824.3 1099.1 814.4 1104 812 C1108.9 809.6 1120.6 807.1 1127 807 C1133.4 806.9 1144.3 808.6 1150 811 C1155.7 813.4 1164.1 819.9 1168 824 C1171.9 828.1 1177.7 837.2 1178 840 C1178.3 842.8 1171.7 842.9 1170 844 C1168.3 845.1 1165.4 847 1166 848 C1166.6 849 1173.4 849.3 1174 851 C1174.6 852.7 1172.8 857.1 1170 860 C1167.2 862.9 1159.5 869.8 1154 872 C1148.5 874.2 1137.4 876.6 1131 876 C1124.6 875.4 1113.5 872.2 1108 868 C1102.5 863.8 1095.6 847.1 1092 846Z" fill="url(#fishP)" stroke="#6e46aa" stroke-width="5.2" stroke-linejoin="round"/>
<ellipse cx="1146" cy="830.5" rx="3" ry="2.4" fill="#6e46aa"/>
<path d="M1251 824 C1248.2 822.6 1246.2 833.5 1244 836 C1241.8 838.5 1236.8 843.7 1235 842 C1233.2 840.3 1232.3 829 1231 824 C1229.7 819 1226.7 811.2 1226 806 C1225.3 800.8 1224 789 1226 787 C1228 785 1236.2 789.8 1240 792 C1243.8 794.2 1249.4 802.9 1253 803 C1256.6 803.1 1261 795.1 1266 793 C1271 790.9 1282.6 788.1 1289 788 C1295.4 787.9 1306.5 789.8 1312 792 C1317.5 794.2 1324.9 800.6 1328 804 C1331.1 807.4 1334.3 813.8 1334 816 C1333.7 818.2 1327.7 818.9 1326 820 C1324.3 821.1 1321.4 822.9 1322 824 C1322.6 825.1 1329.4 826 1330 828 C1330.6 830 1328.5 834.9 1326 838 C1323.5 841.1 1317.2 847.8 1312 850 C1306.8 852.2 1295.7 854.6 1289 854 C1282.3 853.4 1269.3 850.2 1264 846 C1258.7 841.8 1253.8 825.4 1251 824Z" fill="url(#fishO)" stroke="#f6441c" stroke-width="5.2" stroke-linejoin="round"/>
<ellipse cx="1305.6" cy="807" rx="3" ry="2.4" fill="#f6441c"/>
<path d="M1426 859 C1423.5 858.7 1421.8 869.3 1420 872 C1418.2 874.7 1414.5 879.7 1413 878 C1411.5 876.3 1410.3 865 1409 860 C1407.7 855 1404.7 846.9 1404 842 C1403.3 837.1 1402.3 826.7 1404 825 C1405.7 823.3 1412.6 827.8 1416 830 C1419.4 832.2 1424.6 841 1428 841 C1431.4 841 1435.4 832.1 1440 830 C1444.6 827.9 1455.1 826 1461 826 C1466.9 826 1476.8 827.8 1482 830 C1487.2 832.2 1494.9 838.9 1498 842 C1501.1 845.1 1504.1 850 1504 852 C1503.9 854 1498.5 854.9 1497 856 C1495.5 857.1 1492.6 858.9 1493 860 C1493.4 861.1 1499.6 862.6 1500 864 C1500.4 865.4 1498.8 867.8 1496 870 C1493.2 872.2 1485.3 878.3 1480 880 C1474.7 881.7 1463.9 882.8 1458 882 C1452.1 881.2 1442.5 877.2 1438 874 C1433.5 870.8 1428.5 859.3 1426 859Z" fill="url(#fishP)" stroke="#6e46aa" stroke-width="5.2" stroke-linejoin="round"/>
<ellipse cx="1478" cy="846" rx="3" ry="2.4" fill="#6e46aa"/>
<path d="M1259 929 C1257.3 928.9 1255.5 936 1254 938 C1252.5 940 1249.1 944.7 1248 943 C1246.9 941.3 1246.6 930.9 1246 926 C1245.4 921.1 1243.2 910.2 1244 908 C1244.8 905.8 1249.9 908.6 1252 910 C1254.1 911.4 1256.8 919 1259 918 C1261.2 917 1264.4 905.9 1268 903 C1271.6 900.1 1280.8 897.3 1285 897 C1289.2 896.7 1294.8 899 1298 901 C1301.2 903 1307.3 909 1308 911 C1308.7 913 1304.1 913.6 1303 915 C1301.9 916.4 1299.3 919.5 1300 921 C1300.7 922.5 1307.6 923.6 1308 926 C1308.4 928.4 1305.5 935.2 1303 938 C1300.5 940.8 1293.5 944.9 1290 946 C1286.5 947.1 1281.4 947 1278 946 C1274.6 945 1268.7 941.4 1266 939 C1263.3 936.6 1260.7 929.1 1259 929Z" fill="url(#fishB)" stroke="#0c58a8" stroke-width="4.6" stroke-linejoin="round"/>
<ellipse cx="1285.8" cy="913" rx="3" ry="2.4" fill="#0c58a8"/>
<path d="M39 744 L51 744 L52 794 L38 794 Z" fill="#ae4a04" stroke="#01381f" stroke-width="4.4" stroke-linejoin="round"/>
<path d="M50 716 C45.6 716.8 32.4 732.2 28 736 C23.6 739.8 7.4 752.6 6 754 C4.6 755.4 12 750.8 14 750 C16 749.2 23 746.4 26 746 C29 745.6 40.8 746.2 44 746 C47.2 745.8 55.2 744.4 58 744 C60.8 743.6 69.4 742.3 72 742 C74.6 741.7 84 742.4 84 741 C84 739.6 75.4 730.5 72 728 C68.6 725.5 54.4 715.2 50 716Z" fill="#00522f" stroke="#01381f" stroke-width="4.4" stroke-linejoin="round"/>
<path d="M54 675 C50.8 675.4 38.4 693.1 34 698 C29.6 702.9 11.2 721.8 10 724 C8.8 726.2 19.4 720.6 22 720 C24.6 719.4 33.2 718.1 36 718 C38.8 717.9 47.2 719.2 50 719 C52.8 718.8 61.2 716.7 64 716 C66.8 715.3 77.8 714.2 78 712 C78.2 709.8 68.4 697.7 66 694 C63.6 690.3 57.2 674.6 54 675Z" fill="#35906a" stroke="#01381f" stroke-width="4.4" stroke-linejoin="round"/>
<path d="M90 722 L103 722 L104 784 L89 784 Z" fill="#ae4a04" stroke="#01381f" stroke-width="4.4" stroke-linejoin="round"/>
<path d="M84 688 L108 688 L112 700 L80 700 Z" fill="#01381f"/>
<path d="M96 690 C91.6 690.8 80 699.4 76 702 C72 704.6 56.6 714.8 56 716 C55.4 717.2 67.4 714 70 714 C72.6 714 79.8 715.2 82 716 C84.2 716.8 89.6 721.4 92 722 C94.4 722.6 103.2 722.4 106 722 C108.8 721.6 117 718.2 120 718 C123 717.8 132.7 719.5 136 720 C139.3 720.5 152.8 724.2 153 723 C153.2 721.8 141.3 710.9 138 708 C134.7 705.1 124.2 695.8 120 694 C115.8 692.2 100.4 689.2 96 690Z" fill="#1b7d55" stroke="#01381f" stroke-width="4.4" stroke-linejoin="round"/>
<path d="M95 655 C90.4 655.4 74.9 672.1 70 676 C65.1 679.9 47 692.4 46 694 C45 695.6 57.4 692.3 60 692 C62.6 691.7 69.6 691.2 72 691 C74.4 690.8 81.4 689.9 84 690 C86.6 690.1 95 691.7 98 692 C101 692.3 110 693.1 114 693 C118 692.9 137.8 693.1 138 691 C138.2 688.9 120.3 675.6 116 672 C111.7 668.4 99.6 654.6 95 655Z" fill="#00522f" stroke="#01381f" stroke-width="4.4" stroke-linejoin="round"/>
<path d="M147 772 L156 772 L157 794 L146 794 Z" fill="#ae4a04" stroke="#01381f" stroke-width="4.4" stroke-linejoin="round"/>
<path d="M150 760 C146.6 760.5 137.2 766.5 134 768 C130.8 769.5 118.2 774.4 118 775 C117.8 775.6 129.2 773.9 132 774 C134.8 774.1 143.2 775.9 146 776 C148.8 776.1 156.6 775.6 160 775 C163.4 774.4 179.2 771.2 180 770 C180.8 768.8 171 764 168 763 C165 762 153.4 759.5 150 760Z" fill="#1b7d55" stroke="#01381f" stroke-width="4.4" stroke-linejoin="round"/>
<path d="M150 742 C146.8 742.6 135.3 748.4 132 750 C128.7 751.6 117 757.4 117 758 C117 758.6 128.9 755.9 132 756 C135.1 756.1 144.8 759 148 759 C151.2 759 160.6 756.1 164 756 C167.4 755.9 181.2 758.6 182 758 C182.8 757.4 173.8 751.4 172 750 C170.2 748.6 166.2 744.8 164 744 C161.8 743.2 153.2 741.4 150 742Z" fill="#00522f" stroke="#01381f" stroke-width="4.4" stroke-linejoin="round"/>
<path d="M150 728 C146.8 728.2 137.3 736.1 134 738 C130.7 739.9 117 746.2 117 747 C117 747.8 130.7 746 134 746 C137.3 746 146.8 747 150 747 C153.2 747 162.9 746.1 166 746 C169.1 745.9 181 747 181 746 C181 745 169.1 737.8 166 736 C162.9 734.2 153.2 727.8 150 728Z" fill="#1b7d55" stroke="#01381f" stroke-width="4.4" stroke-linejoin="round"/>
<path d="M12 802 C14.1 800.9 21.6 795.6 28 794 C34.4 792.4 51.5 790.8 60 790 C68.5 789.2 85.1 787.7 92 788 C98.9 788.3 106.7 790.9 112 792 C117.3 793.1 126.1 795.1 132 796 C137.9 796.9 149.6 798.2 156 799 C162.4 799.8 173.9 801.3 180 802 C186.1 802.7 196.1 803.7 202 804 C207.9 804.3 217.3 804.8 224 804 C230.7 803.2 244.5 799.6 252 798 C259.5 796.4 273.6 792.3 280 792 C286.4 791.7 294.7 794.9 300 796 C305.3 797.1 314.7 799.3 320 800 C325.3 800.7 334.7 800.7 340 801 C345.3 801.3 353.1 801.5 360 802 C366.9 802.5 383.5 804.2 392 805 C400.5 805.8 414.7 807.3 424 808 C433.3 808.7 451.9 809.5 462 810 C472.1 810.5 490.9 811.5 500 812 C509.1 812.5 522 813.5 530 814 C538 814.5 550.7 815.7 560 816 C569.3 816.3 590.7 815.7 600 816 C609.3 816.3 622 817.5 630 818 C638 818.5 651.5 819.1 660 820 C668.5 820.9 685.1 823.5 694 825 C702.9 826.5 721.5 829.3 727 831 C732.5 832.7 733 836 735 838 C737 840 739.3 844.1 742 846 C744.7 847.9 751.4 850.5 755 852 C758.6 853.5 763.9 856.1 769 857 C774.1 857.9 786.6 858.5 793 859 C799.4 859.5 810.1 860.7 817 861 C823.9 861.3 837.4 861 845 861 C852.6 861 869.5 859.3 874 861 C878.5 862.7 877.5 870.5 879 874 C880.5 877.5 883 883.4 885 887 C887 890.6 891.5 897.4 894 901 C896.5 904.6 901.7 911.1 904 914 C906.3 916.9 909 920.6 911 923 C913 925.4 915.9 928.7 919 932 C922.1 935.3 930 944 934 948 C938 952 944.1 959.2 949 962 C953.9 964.8 965 967.4 971 969 C977 970.6 988.5 972.5 994 974 C999.5 975.5 1007.1 978.5 1012 980 C1016.9 981.5 1024.6 984.2 1031 985 C1037.4 985.8 1051.9 985.7 1060 986 C1068.1 986.3 1087.7 986.9 1092 987L1092 987 C1092.9 988.2 1098.1 994.7 1099 996 C1099.9 997.3 1106.9 996.7 1099 997 C1091.1 997.3 1055.9 997.9 1040 998 C1024.1 998.1 996 997.7 980 998 C964 998.3 936 999.7 920 1000 C904 1000.3 876 999.9 860 1000 C844 1000.1 816 1001.1 800 1001 C784 1000.9 756 999.1 740 999 C724 998.9 693.3 999.9 680 1000 C666.7 1000.1 656 1000.5 640 1000 C624 999.5 581.3 997.1 560 996 C538.7 994.9 498.7 992.5 480 992 C461.3 991.5 436 992 420 992 C404 992 373.3 992.5 360 992 C346.7 991.5 330.7 989.1 320 988 C309.3 986.9 290.7 984.1 280 984 C269.3 983.9 250.7 986.2 240 987 C229.3 987.8 209.3 989.1 200 990 C190.7 990.9 178 993.2 170 994 C162 994.8 147.7 995.7 140 996 C132.3 996.3 118.9 996.3 112 996 C105.1 995.7 91.2 994.3 88 994 C84.8 993.7 91.7 995.9 88 994 C84.3 992.1 65.9 983.7 60 980 C54.1 976.3 47.7 969.7 44 966 C40.3 962.3 35.2 957.3 32 952 C28.8 946.7 22.7 932.9 20 926 C17.3 919.1 13.6 907.5 12 900 C10.4 892.5 8.8 877.5 8 870 C7.2 862.5 6.1 850.4 6 844 C5.9 837.6 6.7 826.8 7 822 C7.3 817.2 7.3 810.7 8 808 C8.7 805.3 11.5 802.8 12 802Z" fill="url(#grass)"/>
<path d="M28 794 C32.3 793.5 51.5 790.8 60 790 C68.5 789.2 85.1 787.7 92 788 C98.9 788.3 106.7 790.9 112 792 C117.3 793.1 126.1 795.1 132 796 C137.9 796.9 149.6 798.2 156 799 C162.4 799.8 173.9 801.3 180 802 C186.1 802.7 196.1 803.7 202 804 C207.9 804.3 217.3 804.8 224 804 C230.7 803.2 244.5 799.6 252 798 C259.5 796.4 273.6 792.3 280 792 C286.4 791.7 294.7 794.9 300 796 C305.3 797.1 314.7 799.3 320 800 C325.3 800.7 334.7 800.7 340 801 C345.3 801.3 353.1 801.5 360 802 C366.9 802.5 383.5 804.2 392 805 C400.5 805.8 414.7 807.3 424 808 C433.3 808.7 451.9 809.5 462 810 C472.1 810.5 490.9 811.5 500 812 C509.1 812.5 522 813.5 530 814 C538 814.5 550.7 815.7 560 816 C569.3 816.3 590.7 815.7 600 816 C609.3 816.3 622 817.5 630 818 C638 818.5 651.5 819.1 660 820 C668.5 820.9 685.1 823.5 694 825 C702.9 826.5 721.5 829.3 727 831 C732.5 832.7 733 836 735 838 C737 840 739.3 844.1 742 846 C744.7 847.9 751.4 850.5 755 852 C758.6 853.5 763.9 856.1 769 857 C774.1 857.9 786.6 858.5 793 859 C799.4 859.5 810.1 860.7 817 861 C823.9 861.3 837.4 861 845 861 C852.6 861 869.5 859.3 874 861 C878.5 862.7 877.5 870.5 879 874 C880.5 877.5 883 883.4 885 887 C887 890.6 891.5 897.4 894 901 C896.5 904.6 901.7 911.1 904 914 C906.3 916.9 909 920.6 911 923 C913 925.4 915.9 928.7 919 932 C922.1 935.3 930 944 934 948 C938 952 944.1 959.2 949 962 C953.9 964.8 965 967.4 971 969 C977 970.6 988.5 972.5 994 974 C999.5 975.5 1007.1 978.5 1012 980 C1016.9 981.5 1024.6 984.2 1031 985 C1037.4 985.8 1051.9 985.7 1060 986 C1068.1 986.3 1087.7 986.9 1092 987" fill="none" stroke="#2b4a3b" stroke-width="4.2" stroke-linecap="round" stroke-linejoin="round"/>
<path d="M1099 997 C1091.1 997.1 1055.9 997.9 1040 998 C1024.1 998.1 996 997.7 980 998 C964 998.3 936 999.7 920 1000 C904 1000.3 876 999.9 860 1000 C844 1000.1 816 1001.1 800 1001 C784 1000.9 756 999.1 740 999 C724 998.9 693.3 999.9 680 1000 C666.7 1000.1 656 1000.5 640 1000 C624 999.5 581.3 997.1 560 996 C538.7 994.9 498.7 992.5 480 992 C461.3 991.5 436 992 420 992 C404 992 373.3 992.5 360 992 C346.7 991.5 330.7 989.1 320 988 C309.3 986.9 290.7 984.1 280 984 C269.3 983.9 250.7 986.2 240 987 C229.3 987.8 209.3 989.1 200 990 C190.7 990.9 178 993.2 170 994 C162 994.8 147.7 995.7 140 996 C132.3 996.3 118.9 996.3 112 996 C105.1 995.7 91.2 994.3 88 994" fill="none" stroke="#1c5a3c" stroke-width="3" stroke-linecap="round" stroke-linejoin="round"/>
<path d="M184 802 l3 -9" stroke="#2b4a3b" stroke-width="2.6" stroke-linecap="round"/>
<path d="M196 803 l3 -9" stroke="#2b4a3b" stroke-width="2.6" stroke-linecap="round"/>
<path d="M306 796 l3 -9" stroke="#2b4a3b" stroke-width="2.6" stroke-linecap="round"/>
<path d="M316 798 l3 -9" stroke="#2b4a3b" stroke-width="2.6" stroke-linecap="round"/>
<path d="M328 799 l3 -9" stroke="#2b4a3b" stroke-width="2.6" stroke-linecap="round"/>
<path d="M340 800 l3 -9" stroke="#2b4a3b" stroke-width="2.6" stroke-linecap="round"/>
<path d="M354 801 l3 -9" stroke="#2b4a3b" stroke-width="2.6" stroke-linecap="round"/>
<path d="M510 812 l3 -9" stroke="#2b4a3b" stroke-width="2.6" stroke-linecap="round"/>
<path d="M522 813 l3 -9" stroke="#2b4a3b" stroke-width="2.6" stroke-linecap="round"/>
<path d="M578 816 l3 -9" stroke="#2b4a3b" stroke-width="2.6" stroke-linecap="round"/>
<path d="M590 816 l3 -9" stroke="#2b4a3b" stroke-width="2.6" stroke-linecap="round"/>
<path d="M728 830 l3 -9" stroke="#2b4a3b" stroke-width="2.6" stroke-linecap="round"/>
<path d="M738 836 l3 -9" stroke="#2b4a3b" stroke-width="2.6" stroke-linecap="round"/>
<path d="M820 860 l3 -9" stroke="#2b4a3b" stroke-width="2.6" stroke-linecap="round"/>
<path d="M832 860 l3 -9" stroke="#2b4a3b" stroke-width="2.6" stroke-linecap="round"/>
<path d="M424 808 l-7 10" stroke="#2b4a3b" stroke-width="2.6" stroke-linecap="round"/>
<path d="M504 813 l-7 10" stroke="#2b4a3b" stroke-width="2.6" stroke-linecap="round"/>
<path d="M520 814 l-7 10" stroke="#2b4a3b" stroke-width="2.6" stroke-linecap="round"/>
<path d="M574 817 l-7 10" stroke="#2b4a3b" stroke-width="2.6" stroke-linecap="round"/>
<path d="M590 818 l-7 10" stroke="#2b4a3b" stroke-width="2.6" stroke-linecap="round"/>
<path d="M776 858 l-7 10" stroke="#2b4a3b" stroke-width="2.6" stroke-linecap="round"/>
<path d="M790 859 l-7 10" stroke="#2b4a3b" stroke-width="2.6" stroke-linecap="round"/>
<path d="M806 861 l-7 10" stroke="#2b4a3b" stroke-width="2.6" stroke-linecap="round"/>
<path d="M862 862 l-7 10" stroke="#2b4a3b" stroke-width="2.6" stroke-linecap="round"/>
<path d="M874 864 l-7 10" stroke="#2b4a3b" stroke-width="2.6" stroke-linecap="round"/>
<path d="M1004 978 l12 -12" stroke="#2b4a3b" stroke-width="3" stroke-linecap="round"/>
<path d="M1016 982 l12 -12" stroke="#2b4a3b" stroke-width="3" stroke-linecap="round"/>
<path d="M1030 984 l10 -10" stroke="#2b4a3b" stroke-width="3" stroke-linecap="round"/>
<path d="M724 972 l8 24" stroke="#2b4a3b" stroke-width="3" stroke-linecap="round"/>
<path d="M886 974 l6 20" stroke="#2b4a3b" stroke-width="3" stroke-linecap="round"/>
<path d="M196 978 l8 20" stroke="#2b4a3b" stroke-width="3" stroke-linecap="round"/>
<path d="M466 978 l8 18" stroke="#2b4a3b" stroke-width="3" stroke-linecap="round"/>
<path d="M142 837 q4 -9 12 -15" fill="none" stroke="#0c6e44" stroke-width="3.3" stroke-linecap="round"/>
<path d="M152 838.5 q4 -9 13 -15" fill="none" stroke="#0c6e44" stroke-width="3.3" stroke-linecap="round"/>
<path d="M162 840 q4 -9 12 -15" fill="none" stroke="#0c6e44" stroke-width="3.3" stroke-linecap="round"/>
<path d="M172 841.5 q4 -9 13 -15" fill="none" stroke="#0c6e44" stroke-width="3.3" stroke-linecap="round"/>
<path d="M220 831 q4 -9 12 -15" fill="none" stroke="#0c6e44" stroke-width="3.3" stroke-linecap="round"/>
<path d="M230 832.5 q4 -9 13 -15" fill="none" stroke="#0c6e44" stroke-width="3.3" stroke-linecap="round"/>
<path d="M240 834 q4 -9 12 -15" fill="none" stroke="#0c6e44" stroke-width="3.3" stroke-linecap="round"/>
<path d="M250 835.5 q4 -9 13 -15" fill="none" stroke="#0c6e44" stroke-width="3.3" stroke-linecap="round"/>
<path d="M308 825 q4 -9 12 -15" fill="none" stroke="#0c6e44" stroke-width="3.3" stroke-linecap="round"/>
<path d="M318 826.5 q4 -9 13 -15" fill="none" stroke="#0c6e44" stroke-width="3.3" stroke-linecap="round"/>
<path d="M328 828 q4 -9 12 -15" fill="none" stroke="#0c6e44" stroke-width="3.3" stroke-linecap="round"/>
<path d="M388 825 q4 -9 12 -15" fill="none" stroke="#0c6e44" stroke-width="3.3" stroke-linecap="round"/>
<path d="M398 826.5 q4 -9 13 -15" fill="none" stroke="#0c6e44" stroke-width="3.3" stroke-linecap="round"/>
<path d="M408 828 q4 -9 12 -15" fill="none" stroke="#0c6e44" stroke-width="3.3" stroke-linecap="round"/>
<path d="M56 933 q4 -9 12 -15" fill="none" stroke="#0c6e44" stroke-width="3.3" stroke-linecap="round"/>
<path d="M66 934.5 q4 -9 13 -15" fill="none" stroke="#0c6e44" stroke-width="3.3" stroke-linecap="round"/>
<path d="M76 936 q4 -9 12 -15" fill="none" stroke="#0c6e44" stroke-width="3.3" stroke-linecap="round"/>
<path d="M142 931 q4 -9 12 -15" fill="none" stroke="#0c6e44" stroke-width="3.3" stroke-linecap="round"/>
<path d="M152 932.5 q4 -9 13 -15" fill="none" stroke="#0c6e44" stroke-width="3.3" stroke-linecap="round"/>
<path d="M162 934 q4 -9 12 -15" fill="none" stroke="#0c6e44" stroke-width="3.3" stroke-linecap="round"/>
<path d="M228 927 q4 -9 12 -15" fill="none" stroke="#0c6e44" stroke-width="3.3" stroke-linecap="round"/>
<path d="M238 928.5 q4 -9 13 -15" fill="none" stroke="#0c6e44" stroke-width="3.3" stroke-linecap="round"/>
<path d="M248 930 q4 -9 12 -15" fill="none" stroke="#0c6e44" stroke-width="3.3" stroke-linecap="round"/>
<path d="M258 931.5 q4 -9 13 -15" fill="none" stroke="#0c6e44" stroke-width="3.3" stroke-linecap="round"/>
<path d="M404 927 q4 -9 12 -15" fill="none" stroke="#0c6e44" stroke-width="3.3" stroke-linecap="round"/>
<path d="M414 928.5 q4 -9 13 -15" fill="none" stroke="#0c6e44" stroke-width="3.3" stroke-linecap="round"/>
<path d="M424 930 q4 -9 12 -15" fill="none" stroke="#0c6e44" stroke-width="3.3" stroke-linecap="round"/>
<path d="M434 931.5 q4 -9 13 -15" fill="none" stroke="#0c6e44" stroke-width="3.3" stroke-linecap="round"/>
<path d="M484 927 q4 -9 12 -15" fill="none" stroke="#0c6e44" stroke-width="3.3" stroke-linecap="round"/>
<path d="M494 928.5 q4 -9 13 -15" fill="none" stroke="#0c6e44" stroke-width="3.3" stroke-linecap="round"/>
<path d="M504 930 q4 -9 12 -15" fill="none" stroke="#0c6e44" stroke-width="3.3" stroke-linecap="round"/>
<path d="M514 931.5 q4 -9 13 -15" fill="none" stroke="#0c6e44" stroke-width="3.3" stroke-linecap="round"/>
<path d="M576 927 q4 -9 12 -15" fill="none" stroke="#0c6e44" stroke-width="3.3" stroke-linecap="round"/>
<path d="M586 928.5 q4 -9 13 -15" fill="none" stroke="#0c6e44" stroke-width="3.3" stroke-linecap="round"/>
<path d="M596 930 q4 -9 12 -15" fill="none" stroke="#0c6e44" stroke-width="3.3" stroke-linecap="round"/>
<path d="M606 931.5 q4 -9 13 -15" fill="none" stroke="#0c6e44" stroke-width="3.3" stroke-linecap="round"/>
<path d="M663 930 q4 -9 12 -15" fill="none" stroke="#0c6e44" stroke-width="3.3" stroke-linecap="round"/>
<path d="M673 931.5 q4 -9 13 -15" fill="none" stroke="#0c6e44" stroke-width="3.3" stroke-linecap="round"/>
<path d="M683 933 q4 -9 12 -15" fill="none" stroke="#0c6e44" stroke-width="3.3" stroke-linecap="round"/>
<path d="M751 930 q4 -9 12 -15" fill="none" stroke="#0c6e44" stroke-width="3.3" stroke-linecap="round"/>
<path d="M761 931.5 q4 -9 13 -15" fill="none" stroke="#0c6e44" stroke-width="3.3" stroke-linecap="round"/>
<path d="M771 933 q4 -9 12 -15" fill="none" stroke="#0c6e44" stroke-width="3.3" stroke-linecap="round"/>
<path d="M839 928 q4 -9 12 -15" fill="none" stroke="#0c6e44" stroke-width="3.3" stroke-linecap="round"/>
<path d="M849 929.5 q4 -9 13 -15" fill="none" stroke="#0c6e44" stroke-width="3.3" stroke-linecap="round"/>
<path d="M859 931 q4 -9 12 -15" fill="none" stroke="#0c6e44" stroke-width="3.3" stroke-linecap="round"/>
<path d="M869 932.5 q4 -9 13 -15" fill="none" stroke="#0c6e44" stroke-width="3.3" stroke-linecap="round"/>
<path d="M629 840 q4 -9 12 -15" fill="none" stroke="#0c6e44" stroke-width="3.3" stroke-linecap="round"/>
<path d="M639 841.5 q4 -9 13 -15" fill="none" stroke="#0c6e44" stroke-width="3.3" stroke-linecap="round"/>
<path d="M649 843 q4 -9 12 -15" fill="none" stroke="#0c6e44" stroke-width="3.3" stroke-linecap="round"/>
<path d="M88 854 q-2 -8 -11 -14" fill="none" stroke="#0c6e44" stroke-width="3.3" stroke-linecap="round"/>
<path d="M98 856 q-2 -8 -11 -14" fill="none" stroke="#0c6e44" stroke-width="3.3" stroke-linecap="round"/>
<path d="M108 858 q-2 -8 -11 -14" fill="none" stroke="#0c6e44" stroke-width="3.3" stroke-linecap="round"/>
<path d="M198 876 q-2 -8 -11 -14" fill="none" stroke="#0c6e44" stroke-width="3.3" stroke-linecap="round"/>
<path d="M208 878 q-2 -8 -11 -14" fill="none" stroke="#0c6e44" stroke-width="3.3" stroke-linecap="round"/>
<path d="M218 880 q-2 -8 -11 -14" fill="none" stroke="#0c6e44" stroke-width="3.3" stroke-linecap="round"/>
<path d="M282 874 q-2 -8 -11 -14" fill="none" stroke="#0c6e44" stroke-width="3.3" stroke-linecap="round"/>
<path d="M292 876 q-2 -8 -11 -14" fill="none" stroke="#0c6e44" stroke-width="3.3" stroke-linecap="round"/>
<path d="M302 878 q-2 -8 -11 -14" fill="none" stroke="#0c6e44" stroke-width="3.3" stroke-linecap="round"/>
<path d="M312 880 q-2 -8 -11 -14" fill="none" stroke="#0c6e44" stroke-width="3.3" stroke-linecap="round"/>
<path d="M366 872 q-2 -8 -11 -14" fill="none" stroke="#0c6e44" stroke-width="3.3" stroke-linecap="round"/>
<path d="M376 874 q-2 -8 -11 -14" fill="none" stroke="#0c6e44" stroke-width="3.3" stroke-linecap="round"/>
<path d="M386 876 q-2 -8 -11 -14" fill="none" stroke="#0c6e44" stroke-width="3.3" stroke-linecap="round"/>
<path d="M458 874 q-2 -8 -11 -14" fill="none" stroke="#0c6e44" stroke-width="3.3" stroke-linecap="round"/>
<path d="M468 876 q-2 -8 -11 -14" fill="none" stroke="#0c6e44" stroke-width="3.3" stroke-linecap="round"/>
<path d="M478 878 q-2 -8 -11 -14" fill="none" stroke="#0c6e44" stroke-width="3.3" stroke-linecap="round"/>
<path d="M488 880 q-2 -8 -11 -14" fill="none" stroke="#0c6e44" stroke-width="3.3" stroke-linecap="round"/>
<path d="M534 872 q-2 -8 -11 -14" fill="none" stroke="#0c6e44" stroke-width="3.3" stroke-linecap="round"/>
<path d="M544 874 q-2 -8 -11 -14" fill="none" stroke="#0c6e44" stroke-width="3.3" stroke-linecap="round"/>
<path d="M554 876 q-2 -8 -11 -14" fill="none" stroke="#0c6e44" stroke-width="3.3" stroke-linecap="round"/>
<path d="M618 872 q-2 -8 -11 -14" fill="none" stroke="#0c6e44" stroke-width="3.3" stroke-linecap="round"/>
<path d="M628 874 q-2 -8 -11 -14" fill="none" stroke="#0c6e44" stroke-width="3.3" stroke-linecap="round"/>
<path d="M638 876 q-2 -8 -11 -14" fill="none" stroke="#0c6e44" stroke-width="3.3" stroke-linecap="round"/>
<path d="M326 920 q-2 -8 -11 -14" fill="none" stroke="#0c6e44" stroke-width="3.3" stroke-linecap="round"/>
<path d="M336 922 q-2 -8 -11 -14" fill="none" stroke="#0c6e44" stroke-width="3.3" stroke-linecap="round"/>
<path d="M346 924 q-2 -8 -11 -14" fill="none" stroke="#0c6e44" stroke-width="3.3" stroke-linecap="round"/>
<path d="M206 978 q-2 -8 -11 -14" fill="none" stroke="#0c6e44" stroke-width="3.3" stroke-linecap="round"/>
<path d="M216 980 q-2 -8 -11 -14" fill="none" stroke="#0c6e44" stroke-width="3.3" stroke-linecap="round"/>
<path d="M226 982 q-2 -8 -11 -14" fill="none" stroke="#0c6e44" stroke-width="3.3" stroke-linecap="round"/>
<path d="M236 984 q-2 -8 -11 -14" fill="none" stroke="#0c6e44" stroke-width="3.3" stroke-linecap="round"/>
<path d="M292 974 q-2 -8 -11 -14" fill="none" stroke="#0c6e44" stroke-width="3.3" stroke-linecap="round"/>
<path d="M302 976 q-2 -8 -11 -14" fill="none" stroke="#0c6e44" stroke-width="3.3" stroke-linecap="round"/>
<path d="M312 978 q-2 -8 -11 -14" fill="none" stroke="#0c6e44" stroke-width="3.3" stroke-linecap="round"/>
<path d="M374 974 q-2 -8 -11 -14" fill="none" stroke="#0c6e44" stroke-width="3.3" stroke-linecap="round"/>
<path d="M384 976 q-2 -8 -11 -14" fill="none" stroke="#0c6e44" stroke-width="3.3" stroke-linecap="round"/>
<path d="M394 978 q-2 -8 -11 -14" fill="none" stroke="#0c6e44" stroke-width="3.3" stroke-linecap="round"/>
<path d="M404 980 q-2 -8 -11 -14" fill="none" stroke="#0c6e44" stroke-width="3.3" stroke-linecap="round"/>
<path d="M472 976 q-2 -8 -11 -14" fill="none" stroke="#0c6e44" stroke-width="3.3" stroke-linecap="round"/>
<path d="M482 978 q-2 -8 -11 -14" fill="none" stroke="#0c6e44" stroke-width="3.3" stroke-linecap="round"/>
<path d="M492 980 q-2 -8 -11 -14" fill="none" stroke="#0c6e44" stroke-width="3.3" stroke-linecap="round"/>
<path d="M502 982 q-2 -8 -11 -14" fill="none" stroke="#0c6e44" stroke-width="3.3" stroke-linecap="round"/>
<path d="M548 974 q-2 -8 -11 -14" fill="none" stroke="#0c6e44" stroke-width="3.3" stroke-linecap="round"/>
<path d="M558 976 q-2 -8 -11 -14" fill="none" stroke="#0c6e44" stroke-width="3.3" stroke-linecap="round"/>
<path d="M568 978 q-2 -8 -11 -14" fill="none" stroke="#0c6e44" stroke-width="3.3" stroke-linecap="round"/>
<path d="M626 986 q-2 -8 -11 -14" fill="none" stroke="#0c6e44" stroke-width="3.3" stroke-linecap="round"/>
<path d="M636 988 q-2 -8 -11 -14" fill="none" stroke="#0c6e44" stroke-width="3.3" stroke-linecap="round"/>
<path d="M646 990 q-2 -8 -11 -14" fill="none" stroke="#0c6e44" stroke-width="3.3" stroke-linecap="round"/>
<path d="M656 992 q-2 -8 -11 -14" fill="none" stroke="#0c6e44" stroke-width="3.3" stroke-linecap="round"/>
<path d="M703 873 q-2 -8 -11 -14" fill="none" stroke="#0c6e44" stroke-width="3.3" stroke-linecap="round"/>
<path d="M713 875 q-2 -8 -11 -14" fill="none" stroke="#0c6e44" stroke-width="3.3" stroke-linecap="round"/>
<path d="M723 877 q-2 -8 -11 -14" fill="none" stroke="#0c6e44" stroke-width="3.3" stroke-linecap="round"/>
<path d="M733 879 q-2 -8 -11 -14" fill="none" stroke="#0c6e44" stroke-width="3.3" stroke-linecap="round"/>
<path d="M800 976 q-2 -8 -11 -14" fill="none" stroke="#0c6e44" stroke-width="3.3" stroke-linecap="round"/>
<path d="M810 978 q-2 -8 -11 -14" fill="none" stroke="#0c6e44" stroke-width="3.3" stroke-linecap="round"/>
<path d="M820 980 q-2 -8 -11 -14" fill="none" stroke="#0c6e44" stroke-width="3.3" stroke-linecap="round"/>
<path d="M830 982 q-2 -8 -11 -14" fill="none" stroke="#0c6e44" stroke-width="3.3" stroke-linecap="round"/>
<path d="M901 989 q-2 -8 -11 -14" fill="none" stroke="#0c6e44" stroke-width="3.3" stroke-linecap="round"/>
<path d="M911 991 q-2 -8 -11 -14" fill="none" stroke="#0c6e44" stroke-width="3.3" stroke-linecap="round"/>
<path d="M921 993 q-2 -8 -11 -14" fill="none" stroke="#0c6e44" stroke-width="3.3" stroke-linecap="round"/>
<circle cx="84" cy="810" r="2.3" fill="#0c6e44"/>
<circle cx="92" cy="816" r="2.3" fill="#0c6e44"/>
<circle cx="86" cy="822" r="2.3" fill="#0c6e44"/>
<circle cx="98" cy="806" r="2.3" fill="#0c6e44"/>
<circle cx="112" cy="808" r="2.3" fill="#0c6e44"/>
<circle cx="128" cy="832" r="2.3" fill="#0c6e44"/>
<circle cx="118" cy="864" r="2.3" fill="#0c6e44"/>
<circle cx="126" cy="866" r="2.3" fill="#0c6e44"/>
<circle cx="118" cy="876" r="2.3" fill="#0c6e44"/>
<circle cx="90" cy="892" r="2.3" fill="#0c6e44"/>
<circle cx="142" cy="888" r="2.3" fill="#0c6e44"/>
<circle cx="74" cy="878" r="2.3" fill="#0c6e44"/>
<circle cx="102" cy="962" r="2.3" fill="#0c6e44"/>
<circle cx="112" cy="968" r="2.3" fill="#0c6e44"/>
<circle cx="120" cy="958" r="2.3" fill="#0c6e44"/>
<circle cx="108" cy="976" r="2.3" fill="#0c6e44"/>
<circle cx="126" cy="976" r="2.3" fill="#0c6e44"/>
<circle cx="100" cy="984" r="2.3" fill="#0c6e44"/>
<circle cx="142" cy="982" r="2.3" fill="#0c6e44"/>
<circle cx="268" cy="808" r="2.3" fill="#0c6e44"/>
<circle cx="276" cy="812" r="2.3" fill="#0c6e44"/>
<circle cx="284" cy="816" r="2.3" fill="#0c6e44"/>
<circle cx="270" cy="824" r="2.3" fill="#0c6e44"/>
<circle cx="286" cy="828" r="2.3" fill="#0c6e44"/>
<circle cx="296" cy="840" r="2.3" fill="#0c6e44"/>
<circle cx="280" cy="850" r="2.3" fill="#0c6e44"/>
<circle cx="190" cy="842" r="2.3" fill="#0c6e44"/>
<circle cx="336" cy="872" r="2.3" fill="#0c6e44"/>
<circle cx="388" cy="898" r="2.3" fill="#0c6e44"/>
<circle cx="352" cy="842" r="2.3" fill="#0c6e44"/>
<circle cx="378" cy="840" r="2.3" fill="#0c6e44"/>
<circle cx="424" cy="846" r="2.3" fill="#0c6e44"/>
<circle cx="462" cy="834" r="2.3" fill="#0c6e44"/>
<circle cx="470" cy="840" r="2.3" fill="#0c6e44"/>
<circle cx="466" cy="850" r="2.3" fill="#0c6e44"/>
<circle cx="474" cy="830" r="2.3" fill="#0c6e44"/>
<circle cx="512" cy="848" r="2.3" fill="#0c6e44"/>
<circle cx="522" cy="894" r="2.3" fill="#0c6e44"/>
<circle cx="594" cy="850" r="2.3" fill="#0c6e44"/>
<circle cx="640" cy="830" r="2.3" fill="#0c6e44"/>
<circle cx="452" cy="904" r="2.3" fill="#0c6e44"/>
<circle cx="448" cy="930" r="2.3" fill="#0c6e44"/>
<circle cx="460" cy="924" r="2.3" fill="#0c6e44"/>
<circle cx="290" cy="930" r="2.3" fill="#0c6e44"/>
<circle cx="268" cy="948" r="2.3" fill="#0c6e44"/>
<circle cx="274" cy="956" r="2.3" fill="#0c6e44"/>
<circle cx="284" cy="956" r="2.3" fill="#0c6e44"/>
<circle cx="260" cy="966" r="2.3" fill="#0c6e44"/>
<circle cx="594" cy="954" r="2.3" fill="#0c6e44"/>
<circle cx="600" cy="962" r="2.3" fill="#0c6e44"/>
<circle cx="590" cy="974" r="2.3" fill="#0c6e44"/>
<circle cx="604" cy="970" r="2.3" fill="#0c6e44"/>
<circle cx="574" cy="992" r="2.3" fill="#0c6e44"/>
<circle cx="628" cy="928" r="2.3" fill="#0c6e44"/>
<circle cx="656" cy="912" r="2.3" fill="#0c6e44"/>
<circle cx="630" cy="976" r="2.3" fill="#0c6e44"/>
<circle cx="650" cy="892" r="2.3" fill="#0c6e44"/>
<circle cx="660" cy="840" r="2.3" fill="#0c6e44"/>
<circle cx="628" cy="838" r="2.3" fill="#0c6e44"/>
<path d="M156 217 C155.6 209.7 157.9 196.9 160 190 C162.1 183.1 168 171 172 165 C176 159 184.7 149.5 190 145 C195.3 140.5 205.6 133.4 212 131 C218.4 128.6 233.9 129.8 238 127 C242.1 124.2 241.5 113.9 243 110 C244.5 106.1 247 100.1 249 98 C251 95.9 255.6 94.8 258 94 C260.4 93.2 265.7 94.1 267 92 C268.3 89.9 267.5 81.6 268 78 C268.5 74.4 269.4 68.7 271 65 C272.6 61.3 277.2 53.6 280 50 C282.8 46.4 289.3 40.5 292 38 C294.7 35.5 298.5 33.7 300 31 C301.5 28.3 301.4 21.1 303 18 C304.6 14.9 309.1 9.9 312 8 C314.9 6.1 321.8 4 325 4 C328.2 4 333.6 6.1 336 8 C338.4 9.9 341.8 15.5 343 18 C344.2 20.5 343.4 25 345 27 C346.6 29 352.3 31.3 355 33 C357.7 34.7 362.5 37.7 365 40 C367.5 42.3 371.9 47.2 374 50 C376.1 52.8 379.4 61.5 381 61 C382.6 60.5 384.3 49.7 386 46 C387.7 42.3 390.8 36.7 394 33 C397.2 29.3 405.5 21.3 410 18 C414.5 14.7 423.3 9.7 428 8 C432.7 6.3 440.5 4.7 445 5 C449.5 5.3 457.9 8.3 462 10 C466.1 11.7 472.7 15.3 476 18 C479.3 20.7 484.6 26.3 487 30 C489.4 33.7 492.3 41.7 494 46 C495.7 50.3 498.9 58 500 62 C501.1 66 500.7 73.6 502 76 C503.3 78.4 508 79.1 510 80 C512 80.9 514.3 83.5 517 83 C519.7 82.5 526.1 77.2 530 76 C533.9 74.8 541.5 73.5 546 74 C550.5 74.5 559.2 77.7 564 80 C568.8 82.3 578.4 87.5 582 91 C585.6 94.5 589 101.2 591 106 C593 110.8 596.3 122.2 597 127 C597.7 131.8 596.5 138.1 596 142 C595.5 145.9 592.5 153.6 593 156 C593.5 158.4 598.3 158.5 600 160 C601.7 161.5 604.8 164.3 606 167 C607.2 169.7 608.3 176.7 609 180 C609.7 183.3 610.1 188 611 192 C611.9 196 614.5 204.7 616 210 C617.5 215.3 619.5 229.2 622 232 C624.5 234.8 631.5 231 635 231 C638.5 231 644.5 230.8 648 232 C651.5 233.2 657.7 237.6 661 240 C664.3 242.4 670.6 247.2 673 250 C675.4 252.8 677.5 258.3 679 261 C680.5 263.7 682.3 268.4 684 270 C685.7 271.6 689.9 272.1 692 273 C694.1 273.9 700.5 276.1 700 277 C699.5 277.9 691.6 279.5 688 280 C684.4 280.5 679.4 280.7 673 281 C666.6 281.3 649.7 281.7 640 282 C630.3 282.3 608.7 282.9 600 283 C591.3 283.1 579.5 283.8 575 283 C570.5 282.2 568.4 278.5 566 277 C563.6 275.5 559.8 272.1 557 272 C554.2 271.9 548.3 275.1 545 276 C541.7 276.9 534.8 279.3 532 279 C529.2 278.7 526 275.5 524 274 C522 272.5 518.9 267.2 517 268 C515.1 268.8 511.9 277.1 510 280 C508.1 282.9 508.3 288.9 503 290 C497.7 291.1 479.7 288.5 470 288 C460.3 287.5 442 286.3 430 286 C418 285.7 393.5 286 380 286 C366.5 286 336.9 285.3 329 286 C321.1 286.7 323 289.9 321 291 C319 292.1 316.1 294.4 314 294 C311.9 293.6 307.4 289.5 305 288 C302.6 286.5 300.4 284.1 296 283 C291.6 281.9 278.3 280.5 272 280 C265.7 279.5 254.5 278.2 249 279 C243.5 279.8 235.9 284.5 231 286 C226.1 287.5 217.2 290.5 212 290 C206.8 289.5 196.8 284.9 192 282 C187.2 279.1 179.9 272.9 176 268 C172.1 263.1 165.7 251.8 163 245 C160.3 238.2 156.4 224.3 156 217Z" fill="url(#cloud1)" stroke="#989a9c" stroke-width="3.8" stroke-linejoin="round"/>
<path d="M440 121 C441 118.5 443 110.3 446 106 C449 101.7 453.3 98 458 95 C462.7 92 468.7 89.3 474 88 C479.3 86.7 485.7 86.3 490 87 C494.3 87.7 497.5 89.7 500 92 C502.5 94.3 504.2 99.5 505 101" fill="none" stroke="#989a9c" stroke-width="3.6" stroke-linecap="round"/>
<path d="M524 185 C525.3 183.7 528 179.3 532 177 C536 174.7 542.3 172.2 548 171 C553.7 169.8 560 169.7 566 170 C572 170.3 578.7 171.3 584 173 C589.3 174.7 594.3 177.8 598 180 C601.7 182.2 604.7 185 606 186" fill="none" stroke="#989a9c" stroke-width="3.6" stroke-linecap="round"/>
<path d="M366 41 L378 44 L392 34 L384 50 L381 62 L376 52Z" fill="#9c9ea0" stroke="#989a9c" stroke-width="1.5" stroke-linejoin="round"/>
<path d="M500 68 L508 78 L517 83 L508 90 L504 101 L502 84Z" fill="#9c9ea0" stroke="#989a9c" stroke-width="1.5" stroke-linejoin="round"/>
<path d="M517 268 L512 276 L504 289 L512 288 L520 274 L528 278Z" fill="#9c9ea0" stroke="#989a9c" stroke-width="1.5" stroke-linejoin="round"/>
<path d="M603 162 L609 178 L611 192 L614 190 L611 172Z" fill="#9c9ea0" stroke="#989a9c" stroke-width="1.5" stroke-linejoin="round"/>
<path d="M1112.5 268.8 C1113.1 264.8 1115 254.4 1118.8 250 C1122.5 245.6 1134.8 238 1140.6 235.9 C1146.5 233.9 1159 235.8 1162.5 234.4 C1166 232.9 1164.7 227.1 1167.2 225 C1169.7 222.9 1177.7 219.7 1181.2 218.8 C1184.8 217.8 1192.6 219.8 1193.8 218.1 C1194.9 216.5 1190.4 209.5 1190 206.2 C1189.6 203 1188.5 197.7 1190.6 193.8 C1192.8 189.8 1201.7 179.7 1206.2 176.6 C1210.8 173.4 1221.7 172.6 1225 170.3 C1228.3 168 1228.3 160.4 1231.2 159.4 C1234.2 158.3 1244.6 163.8 1246.9 162.5 C1249.2 161.2 1247.6 152.9 1248.4 150 C1249.3 147.1 1251.2 143.1 1253.1 140.6 C1255 138.1 1259.6 133.5 1262.5 131.2 C1265.4 129 1270.8 124.7 1275 123.4 C1279.2 122.2 1289.4 121.5 1293.8 121.9 C1298.1 122.3 1304.5 124.9 1307.8 126.6 C1311.1 128.2 1316.2 132.1 1318.8 134.4 C1321.2 136.7 1324.9 140.8 1326.6 143.8 C1328.2 146.7 1330.4 151.2 1331.2 156.2 C1332.1 161.2 1331.8 179.8 1332.8 181.2 C1333.9 182.7 1336.8 170.5 1339.1 167.2 C1341.4 163.9 1346.9 158.5 1350 156.2 C1353.1 154 1359.2 151.2 1362.5 150 C1365.8 148.8 1371.2 147.1 1375 146.9 C1378.8 146.7 1386.9 147.6 1390.6 148.4 C1394.4 149.3 1400.2 151.5 1403.1 153.1 C1406 154.8 1410.4 158.6 1412.5 160.9 C1414.6 163.2 1416.2 170.3 1418.8 170.3 C1421.2 170.3 1427.9 162.8 1431.2 160.9 C1434.6 159.1 1439.2 157.1 1443.8 156.2 C1448.3 155.4 1460.8 154.1 1465.6 154.7 C1470.4 155.3 1476.4 159.1 1479.7 160.9 C1483 162.8 1487.9 166 1490.6 168.8 C1493.3 171.5 1497.9 177.5 1500 181.2 C1502.1 185 1504.6 191 1506.2 196.9 C1507.9 202.7 1511.5 219.2 1512.5 225 C1513.5 230.8 1512 238.5 1514.1 240.6 C1516.1 242.7 1525.2 239.4 1528.1 240.6 C1531 241.9 1533.9 247.3 1535.9 250 C1538 252.7 1541.5 260.3 1543.8 260.9 C1546 261.6 1548.5 255.5 1553.1 254.7 C1557.7 253.9 1573.8 254 1578.1 254.7 C1582.5 255.4 1584.5 258.1 1585.9 260 C1587.4 261.9 1588.6 265.9 1589.1 268.8 C1589.5 271.6 1589.5 278.3 1589.1 281.2 C1588.6 284.2 1588.6 288.5 1585.9 290.6 C1583.2 292.7 1579.4 296 1568.8 296.9 C1558.1 297.7 1518.8 296.8 1506.2 296.9 C1493.8 297 1487.5 296.7 1475 297.5 C1462.5 298.3 1433.3 302 1412.5 303.1 C1391.7 304.3 1341.7 305.6 1318.8 306.2 C1295.8 306.9 1258.5 307.4 1240.6 307.8 C1222.7 308.2 1192.7 310.4 1184.4 309.4 C1176 308.3 1179.8 302.3 1178.1 300 C1176.5 297.7 1173.3 292.5 1171.9 292.2 C1170.4 291.9 1168.4 296.5 1167.2 297.5 C1165.9 298.5 1166 299.9 1162.5 300 C1159 300.1 1146.5 299.7 1140.6 298.4 C1134.8 297.2 1122.3 293.1 1118.8 290.6 C1115.2 288.1 1114.9 282.6 1114.1 279.7 C1113.2 276.8 1111.9 272.7 1112.5 268.8Z" fill="#f5f6f6" stroke="#c9d6dc" stroke-width="3.8" stroke-linejoin="round"/>
<path d="M1418.8 171.9 C1421.5 168.8 1427.9 163 1431.2 160.9 C1434.6 158.9 1439.2 157.1 1443.8 156.2 C1448.3 155.4 1460.8 154.1 1465.6 154.7 C1470.4 155.3 1476.4 159.1 1479.7 160.9 C1483 162.8 1487.9 166 1490.6 168.8 C1493.3 171.5 1497.9 177.5 1500 181.2 C1502.1 185 1504.6 191 1506.2 196.9 C1507.9 202.7 1511.5 219.2 1512.5 225 C1513.5 230.8 1512 238.5 1514.1 240.6 C1516.1 242.7 1525.2 239.4 1528.1 240.6 C1531 241.9 1533.9 247.3 1535.9 250 C1538 252.7 1541.5 260.3 1543.8 260.9 C1546 261.6 1548.5 255.5 1553.1 254.7 C1557.7 253.9 1573.8 254 1578.1 254.7 C1582.5 255.4 1584.5 258.1 1585.9 260 C1587.4 261.9 1588.6 265.9 1589.1 268.8 C1589.5 271.6 1589.5 278.3 1589.1 281.2 C1588.6 284.2 1588.6 288.5 1585.9 290.6 C1583.2 292.7 1579.4 296 1568.8 296.9 C1558.1 297.7 1517.9 297.7 1506.2 296.9 C1494.6 296 1486.2 292.3 1481.2 290.6 C1476.2 289 1472.5 284 1468.8 284.4 C1465 284.8 1458.5 293.1 1453.1 293.8 C1447.7 294.4 1437.7 288.9 1428.1 289.1 C1418.5 289.3 1395 293.9 1381.2 295.3 C1367.5 296.8 1333.1 300.2 1325 300 C1316.9 299.8 1321.6 295.4 1320.3 293.8 C1319.1 292.1 1320 287.7 1315.6 287.5 C1311.2 287.3 1292.3 292.4 1287.5 292.2 C1282.7 292 1281.1 287.8 1279.7 285.9 C1278.2 284.1 1277 281.7 1276.6 278.1 C1276.1 274.6 1275.1 263.5 1276.6 259.4 C1278 255.2 1284.4 249 1287.5 246.9 C1290.6 244.8 1297.9 246.2 1300 243.8 C1302.1 241.2 1300.2 231.7 1303.1 228.1 C1306 224.6 1316.5 219.7 1321.9 217.2 C1327.3 214.7 1340.4 212.1 1343.8 209.4 C1347.1 206.7 1344.8 199.6 1346.9 196.9 C1349 194.2 1354.8 189.7 1359.4 189.1 C1364 188.4 1378.1 190.1 1381.2 192.2 C1384.4 194.3 1381.1 204.5 1382.8 204.7 C1384.5 204.9 1391 194.6 1393.8 193.8 C1396.5 192.9 1400.8 199.7 1403.1 198.4 C1405.4 197.2 1408.9 187.9 1410.9 184.4 C1413 180.8 1416 175 1418.8 171.9Z" fill="#f7f8f8" stroke="#c9d6dc" stroke-width="3.8" stroke-linejoin="round"/>
<path d="M1331 150 L1334 184 L1345 160 Z" fill="#c9d6dc"/>
<path d="M1166 292 L1174 290 L1184 308 L1172 302 Z" fill="#c9d6dc"/>
<path d="M1462 290 L1470 282 L1482 292 Z" fill="#c9d6dc"/>
<radialGradient id="a1" gradientUnits="userSpaceOnUse" cx="902" cy="275" r="72"><stop offset="0" stop-color="#c4e878"/><stop offset="0.5" stop-color="#94cc5e"/><stop offset="1" stop-color="#52ad28"/></radialGradient>
<path d="M806 270.5 L860 233 L862 245 L866 257 L986 253 L995 261 L996 276 L987 289 L866 292 L865 306 L864 319Z" fill="url(#a1)" stroke="#0f7a48" stroke-width="5.5" stroke-linejoin="round"/>
<radialGradient id="a2" gradientUnits="userSpaceOnUse" cx="120" cy="458" r="58"><stop offset="0" stop-color="#c4e878"/><stop offset="0.5" stop-color="#94cc5e"/><stop offset="1" stop-color="#52ad28"/></radialGradient>
<path d="M56 518 L68 462 L86 479 L157 398 L168 398 L178 408 L178 420 L104 497 L122 513Z" fill="url(#a2)" stroke="#0f7a48" stroke-width="5.5" stroke-linejoin="round"/>
<radialGradient id="a3" gradientUnits="userSpaceOnUse" cx="826" cy="818" r="50"><stop offset="0" stop-color="#c4e878"/><stop offset="0.5" stop-color="#94cc5e"/><stop offset="1" stop-color="#52ad28"/></radialGradient>
<path d="M894 818 L857 787 L857 807 L768 808 L764 813 L764 822 L768 828 L857 829 L857 844Z" fill="url(#a3)" stroke="#0f7a48" stroke-width="3.5" stroke-linejoin="round"/>
<radialGradient id="a4" gradientUnits="userSpaceOnUse" cx="1566" cy="512" r="46"><stop offset="0" stop-color="#c4e878"/><stop offset="0.5" stop-color="#94cc5e"/><stop offset="1" stop-color="#52ad28"/></radialGradient>
<path d="M1568 445 L1534 483 L1554 484 L1553 568 L1566 576 L1578 568 L1577 484 L1593 482Z" fill="url(#a4)" stroke="#0f7a48" stroke-width="4.5" stroke-linejoin="round"/>
</svg>
</body>
</html>
